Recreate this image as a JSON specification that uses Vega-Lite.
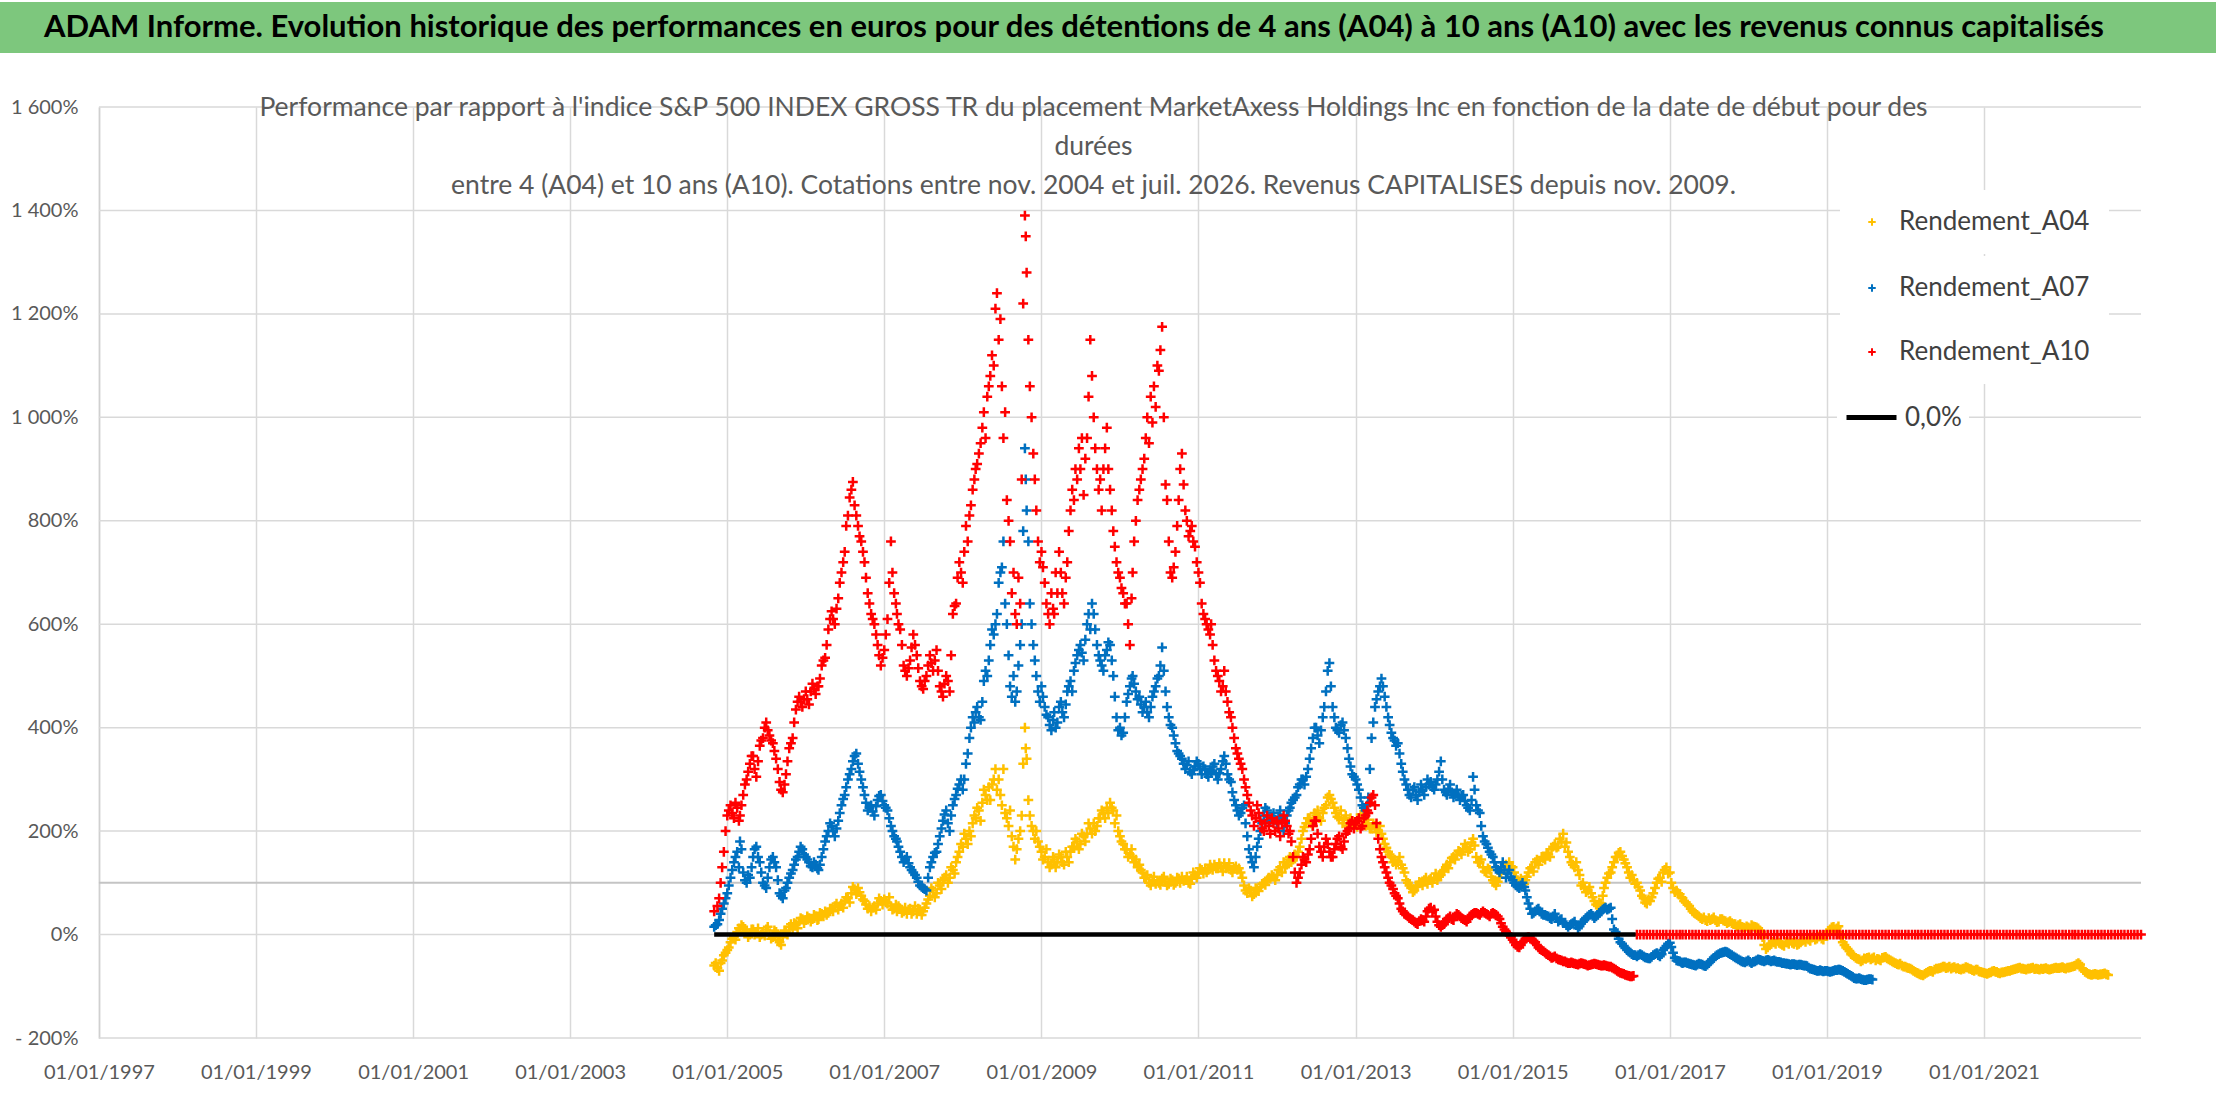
{
"$schema": "https://vega.github.io/schema/vega-lite/v6.json",
"background": "white",
"padding": {"left": 0, "top": 2, "right": 0, "bottom": 0},
"autosize": {"type": "pad"},
"config": {
  "font": "Lato",
  "view": {"stroke": null},
  "axis": {"labelFont": "Lato", "labelColor": "#595959", "labelFontSize": 20, "gridColor": "#d9d9d9", "gridWidth": 1.5, "domainColor": "#d0d0d0", "domainWidth": 1.5, "ticks": false}
},
"datasets": {
"a04": [
{"d":"2004-11-01","v":-60},{"d":"2004-11-16","v":-65},{"d":"2004-11-24","v":-70},{"d":"2004-12-01","v":-55},{"d":"2004-12-16","v":-40},
{"d":"2005-01-01","v":-30},{"d":"2005-01-16","v":-15},{"d":"2005-02-01","v":-5},{"d":"2005-02-16","v":5},{"d":"2005-03-01","v":10},{"d":"2005-03-16","v":15},{"d":"2005-04-01","v":5},{"d":"2005-04-16","v":0},{"d":"2005-05-01","v":10},{"d":"2005-05-16","v":5},{"d":"2005-06-01","v":-5},{"d":"2005-06-16","v":5},{"d":"2005-07-01","v":10},{"d":"2005-07-16","v":0},{"d":"2005-08-01","v":-5},{"d":"2005-08-16","v":5},{"d":"2005-09-01","v":-15},{"d":"2005-09-16","v":-5},{"d":"2005-10-01","v":5},{"d":"2005-10-16","v":15},{"d":"2005-11-01","v":10},{"d":"2005-11-16","v":20},{"d":"2005-12-01","v":25},{"d":"2005-12-16","v":30},
{"d":"2006-01-01","v":28},{"d":"2006-01-16","v":32},{"d":"2006-02-01","v":30},{"d":"2006-02-16","v":35},{"d":"2006-03-01","v":30},{"d":"2006-03-16","v":40},{"d":"2006-04-01","v":45},{"d":"2006-04-16","v":42},{"d":"2006-05-01","v":50},{"d":"2006-05-16","v":55},{"d":"2006-06-01","v":48},{"d":"2006-06-16","v":60},{"d":"2006-07-01","v":65},{"d":"2006-07-16","v":70},{"d":"2006-08-01","v":80},{"d":"2006-08-16","v":88},{"d":"2006-09-01","v":90},{"d":"2006-09-16","v":75},{"d":"2006-10-01","v":65},{"d":"2006-10-16","v":50},{"d":"2006-11-01","v":45},{"d":"2006-11-16","v":55},{"d":"2006-12-01","v":60},{"d":"2006-12-16","v":65},
{"d":"2007-01-01","v":68},{"d":"2007-01-16","v":60},{"d":"2007-02-01","v":55},{"d":"2007-02-16","v":50},{"d":"2007-03-01","v":45},{"d":"2007-03-16","v":50},{"d":"2007-04-01","v":45},{"d":"2007-04-16","v":40},{"d":"2007-05-01","v":50},{"d":"2007-05-16","v":45},{"d":"2007-06-01","v":40},{"d":"2007-06-16","v":48},{"d":"2007-07-01","v":45},{"d":"2007-07-16","v":60},{"d":"2007-08-01","v":75},{"d":"2007-08-16","v":85},{"d":"2007-09-01","v":80},{"d":"2007-09-16","v":95},{"d":"2007-10-01","v":105},{"d":"2007-10-16","v":115},{"d":"2007-11-01","v":110},{"d":"2007-11-16","v":125},{"d":"2007-12-01","v":140},{"d":"2007-12-16","v":160},
{"d":"2008-01-01","v":170},{"d":"2008-01-16","v":185},{"d":"2008-02-01","v":200},{"d":"2008-02-16","v":215},{"d":"2008-03-01","v":225},{"d":"2008-03-16","v":240},{"d":"2008-04-01","v":255},{"d":"2008-04-16","v":270},{"d":"2008-05-01","v":285},{"d":"2008-05-08","v":260},{"d":"2008-05-16","v":290},{"d":"2008-05-24","v":300},{"d":"2008-06-01","v":320},{"d":"2008-06-08","v":280},{"d":"2008-06-16","v":300},{"d":"2008-06-24","v":270},{"d":"2008-07-01","v":250},{"d":"2008-07-08","v":320},{"d":"2008-07-16","v":235},{"d":"2008-07-24","v":225},{"d":"2008-08-01","v":210},{"d":"2008-08-08","v":240},{"d":"2008-08-16","v":190},{"d":"2008-08-24","v":170},{"d":"2008-09-01","v":145},{"d":"2008-09-08","v":165},{"d":"2008-09-16","v":185},{"d":"2008-09-24","v":200},{"d":"2008-10-01","v":230},{"d":"2008-10-08","v":330},{"d":"2008-10-16","v":400},{"d":"2008-10-20","v":360},{"d":"2008-10-24","v":340},{"d":"2008-11-01","v":260},{"d":"2008-11-08","v":230},{"d":"2008-11-16","v":210},{"d":"2008-11-24","v":200},{"d":"2008-12-01","v":185},{"d":"2008-12-08","v":200},{"d":"2008-12-16","v":180},{"d":"2008-12-24","v":170},
{"d":"2009-01-01","v":160},{"d":"2009-01-16","v":150},{"d":"2009-02-01","v":140},{"d":"2009-02-16","v":135},{"d":"2009-03-01","v":145},{"d":"2009-03-16","v":140},{"d":"2009-04-01","v":150},{"d":"2009-04-16","v":135},{"d":"2009-05-01","v":150},{"d":"2009-05-16","v":160},{"d":"2009-06-01","v":170},{"d":"2009-06-16","v":180},{"d":"2009-07-01","v":175},{"d":"2009-07-16","v":190},{"d":"2009-08-01","v":195},{"d":"2009-08-16","v":205},{"d":"2009-09-01","v":215},{"d":"2009-09-16","v":210},{"d":"2009-10-01","v":225},{"d":"2009-10-16","v":235},{"d":"2009-11-01","v":245},{"d":"2009-11-16","v":255},{"d":"2009-12-01","v":240},{"d":"2009-12-16","v":230},
{"d":"2010-01-01","v":190},{"d":"2010-01-16","v":175},{"d":"2010-02-01","v":165},{"d":"2010-02-16","v":155},{"d":"2010-03-01","v":150},{"d":"2010-03-16","v":145},{"d":"2010-04-01","v":135},{"d":"2010-04-16","v":120},{"d":"2010-05-01","v":110},{"d":"2010-05-16","v":100},{"d":"2010-06-01","v":105},{"d":"2010-06-16","v":98},{"d":"2010-07-01","v":100},{"d":"2010-07-16","v":108},{"d":"2010-08-01","v":102},{"d":"2010-08-16","v":98},{"d":"2010-09-01","v":105},{"d":"2010-09-16","v":100},{"d":"2010-10-01","v":108},{"d":"2010-10-16","v":112},{"d":"2010-11-01","v":105},{"d":"2010-11-16","v":100},{"d":"2010-12-01","v":108},{"d":"2010-12-16","v":115},
{"d":"2011-01-01","v":120},{"d":"2011-01-16","v":125},{"d":"2011-02-01","v":128},{"d":"2011-02-16","v":125},{"d":"2011-03-01","v":130},{"d":"2011-03-16","v":135},{"d":"2011-04-01","v":128},{"d":"2011-04-16","v":132},{"d":"2011-05-01","v":138},{"d":"2011-05-16","v":130},{"d":"2011-06-01","v":125},{"d":"2011-06-16","v":128},{"d":"2011-07-01","v":125},{"d":"2011-07-16","v":120},{"d":"2011-08-01","v":95},{"d":"2011-08-16","v":80},{"d":"2011-09-01","v":85},{"d":"2011-09-16","v":78},{"d":"2011-10-01","v":88},{"d":"2011-10-16","v":92},{"d":"2011-11-01","v":100},{"d":"2011-11-16","v":105},{"d":"2011-12-01","v":108},{"d":"2011-12-16","v":112},
{"d":"2012-01-01","v":115},{"d":"2012-01-16","v":130},{"d":"2012-02-01","v":140},{"d":"2012-02-16","v":135},{"d":"2012-03-01","v":150},{"d":"2012-03-16","v":145},{"d":"2012-04-01","v":150},{"d":"2012-04-16","v":170},{"d":"2012-05-01","v":200},{"d":"2012-05-16","v":215},{"d":"2012-06-01","v":225},{"d":"2012-06-16","v":210},{"d":"2012-07-01","v":230},{"d":"2012-07-16","v":225},{"d":"2012-08-01","v":235},{"d":"2012-08-16","v":250},{"d":"2012-08-24","v":265},{"d":"2012-09-01","v":270},{"d":"2012-09-16","v":255},{"d":"2012-10-01","v":235},{"d":"2012-10-16","v":225},{"d":"2012-11-01","v":215},{"d":"2012-11-16","v":230},{"d":"2012-12-01","v":210},{"d":"2012-12-16","v":220},
{"d":"2013-01-01","v":215},{"d":"2013-01-16","v":225},{"d":"2013-02-01","v":230},{"d":"2013-02-16","v":210},{"d":"2013-03-01","v":215},{"d":"2013-03-16","v":205},{"d":"2013-04-01","v":210},{"d":"2013-04-16","v":200},{"d":"2013-05-01","v":195},{"d":"2013-05-16","v":175},{"d":"2013-06-01","v":160},{"d":"2013-06-16","v":150},{"d":"2013-07-01","v":145},{"d":"2013-07-16","v":140},{"d":"2013-08-01","v":135},{"d":"2013-08-16","v":120},{"d":"2013-09-01","v":100},{"d":"2013-09-16","v":90},{"d":"2013-10-01","v":85},{"d":"2013-10-16","v":95},{"d":"2013-11-01","v":100},{"d":"2013-11-16","v":105},{"d":"2013-12-01","v":98},{"d":"2013-12-16","v":108},
{"d":"2014-01-01","v":110},{"d":"2014-01-16","v":105},{"d":"2014-02-01","v":115},{"d":"2014-02-16","v":125},{"d":"2014-03-01","v":135},{"d":"2014-03-16","v":140},{"d":"2014-04-01","v":150},{"d":"2014-04-16","v":155},{"d":"2014-05-01","v":160},{"d":"2014-05-16","v":165},{"d":"2014-06-01","v":170},{"d":"2014-06-16","v":165},{"d":"2014-07-01","v":185},{"d":"2014-07-16","v":150},{"d":"2014-08-01","v":140},{"d":"2014-08-16","v":130},{"d":"2014-09-01","v":120},{"d":"2014-09-16","v":125},{"d":"2014-10-01","v":105},{"d":"2014-10-16","v":95},{"d":"2014-11-01","v":110},{"d":"2014-11-16","v":125},{"d":"2014-12-01","v":135},{"d":"2014-12-16","v":140},
{"d":"2015-01-01","v":130},{"d":"2015-01-16","v":110},{"d":"2015-02-01","v":100},{"d":"2015-02-16","v":95},{"d":"2015-03-01","v":105},{"d":"2015-03-16","v":120},{"d":"2015-04-01","v":130},{"d":"2015-04-16","v":140},{"d":"2015-05-01","v":135},{"d":"2015-05-16","v":150},{"d":"2015-06-01","v":145},{"d":"2015-06-16","v":155},{"d":"2015-07-01","v":165},{"d":"2015-07-16","v":175},{"d":"2015-08-01","v":170},{"d":"2015-08-16","v":180},{"d":"2015-08-24","v":195},{"d":"2015-09-01","v":170},{"d":"2015-09-16","v":160},{"d":"2015-10-01","v":140},{"d":"2015-10-16","v":130},{"d":"2015-11-01","v":125},{"d":"2015-11-16","v":95},{"d":"2015-12-01","v":90},{"d":"2015-12-16","v":85},
{"d":"2016-01-01","v":80},{"d":"2016-01-16","v":65},{"d":"2016-02-01","v":55},{"d":"2016-02-16","v":60},{"d":"2016-03-01","v":90},{"d":"2016-03-16","v":110},{"d":"2016-04-01","v":120},{"d":"2016-04-16","v":140},{"d":"2016-05-01","v":150},{"d":"2016-05-16","v":160},{"d":"2016-06-01","v":145},{"d":"2016-06-16","v":130},{"d":"2016-07-01","v":110},{"d":"2016-07-16","v":105},{"d":"2016-08-01","v":100},{"d":"2016-08-16","v":85},{"d":"2016-09-01","v":70},{"d":"2016-09-16","v":60},{"d":"2016-10-01","v":65},{"d":"2016-10-16","v":80},{"d":"2016-11-01","v":100},{"d":"2016-11-16","v":110},{"d":"2016-12-01","v":120},{"d":"2016-12-16","v":130},
{"d":"2017-01-01","v":120},{"d":"2017-01-16","v":90},{"d":"2017-02-01","v":85},{"d":"2017-02-16","v":78},{"d":"2017-03-01","v":70},{"d":"2017-03-16","v":62},{"d":"2017-04-01","v":55},{"d":"2017-04-16","v":45},{"d":"2017-05-01","v":40},{"d":"2017-05-16","v":35},{"d":"2017-06-01","v":30},{"d":"2017-06-16","v":28},{"d":"2017-07-01","v":32},{"d":"2017-07-16","v":30},{"d":"2017-08-01","v":28},{"d":"2017-08-16","v":25},{"d":"2017-09-01","v":30},{"d":"2017-09-16","v":26},{"d":"2017-10-01","v":24},{"d":"2017-10-16","v":22},{"d":"2017-11-01","v":20},{"d":"2017-11-16","v":18},{"d":"2017-12-01","v":15},{"d":"2017-12-16","v":12},
{"d":"2018-01-01","v":14},{"d":"2018-01-16","v":18},{"d":"2018-02-01","v":15},{"d":"2018-02-16","v":12},{"d":"2018-03-01","v":5},{"d":"2018-03-16","v":-20},{"d":"2018-04-01","v":-25},{"d":"2018-04-16","v":-18},{"d":"2018-05-01","v":-15},{"d":"2018-05-16","v":-12},{"d":"2018-06-01","v":-18},{"d":"2018-06-16","v":-22},{"d":"2018-07-01","v":-15},{"d":"2018-07-16","v":-12},{"d":"2018-08-01","v":-18},{"d":"2018-08-16","v":-20},{"d":"2018-09-01","v":-15},{"d":"2018-09-16","v":-10},{"d":"2018-10-01","v":-8},{"d":"2018-10-16","v":-12},{"d":"2018-11-01","v":-5},{"d":"2018-11-16","v":-8},{"d":"2018-12-01","v":-3},{"d":"2018-12-16","v":-10},
{"d":"2019-01-01","v":2},{"d":"2019-01-16","v":10},{"d":"2019-02-01","v":15},{"d":"2019-02-16","v":12},{"d":"2019-03-01","v":5},{"d":"2019-03-16","v":-15},{"d":"2019-04-01","v":-25},{"d":"2019-04-16","v":-32},{"d":"2019-05-01","v":-40},{"d":"2019-05-16","v":-45},{"d":"2019-06-01","v":-48},{"d":"2019-06-16","v":-50},{"d":"2019-07-01","v":-47},{"d":"2019-07-16","v":-44},{"d":"2019-08-01","v":-46},{"d":"2019-08-16","v":-50},{"d":"2019-09-01","v":-48},{"d":"2019-09-16","v":-45},{"d":"2019-10-01","v":-43},{"d":"2019-10-16","v":-48},{"d":"2019-11-01","v":-52},{"d":"2019-11-16","v":-55},{"d":"2019-12-01","v":-58},{"d":"2019-12-16","v":-60},
{"d":"2020-01-01","v":-62},{"d":"2020-01-16","v":-65},{"d":"2020-02-01","v":-68},{"d":"2020-02-16","v":-72},{"d":"2020-03-01","v":-75},{"d":"2020-03-16","v":-78},{"d":"2020-04-01","v":-76},{"d":"2020-04-16","v":-72},{"d":"2020-05-01","v":-70},{"d":"2020-05-16","v":-68},{"d":"2020-06-01","v":-66},{"d":"2020-06-16","v":-64},{"d":"2020-07-01","v":-62},{"d":"2020-07-16","v":-64},{"d":"2020-08-01","v":-66},{"d":"2020-08-16","v":-63},{"d":"2020-09-01","v":-65},{"d":"2020-09-16","v":-68},{"d":"2020-10-01","v":-66},{"d":"2020-10-16","v":-64},{"d":"2020-11-01","v":-67},{"d":"2020-11-16","v":-70},{"d":"2020-12-01","v":-68},{"d":"2020-12-16","v":-72},
{"d":"2021-01-01","v":-74},{"d":"2021-01-16","v":-76},{"d":"2021-02-01","v":-73},{"d":"2021-02-16","v":-70},{"d":"2021-03-01","v":-72},{"d":"2021-03-16","v":-75},{"d":"2021-04-01","v":-73},{"d":"2021-04-16","v":-71},{"d":"2021-05-01","v":-70},{"d":"2021-05-16","v":-68},{"d":"2021-06-01","v":-66},{"d":"2021-06-16","v":-64},{"d":"2021-07-01","v":-66},{"d":"2021-07-16","v":-68},{"d":"2021-08-01","v":-66},{"d":"2021-08-16","v":-64},{"d":"2021-09-01","v":-66},{"d":"2021-09-16","v":-68},{"d":"2021-10-01","v":-67},{"d":"2021-10-16","v":-65},{"d":"2021-11-01","v":-68},{"d":"2021-11-16","v":-66},{"d":"2021-12-01","v":-64},{"d":"2021-12-16","v":-65},
{"d":"2022-01-01","v":-63},{"d":"2022-01-16","v":-66},{"d":"2022-02-01","v":-64},{"d":"2022-02-16","v":-62},{"d":"2022-03-01","v":-60},{"d":"2022-03-16","v":-55},{"d":"2022-04-01","v":-65},{"d":"2022-04-16","v":-72},{"d":"2022-05-01","v":-76},{"d":"2022-05-16","v":-78},{"d":"2022-06-01","v":-76},{"d":"2022-06-16","v":-78},{"d":"2022-07-01","v":-77},{"d":"2022-07-16","v":-75},{"d":"2022-08-01","v":-78}
],
"a04x": [
{"d":"2004-11-08","v":-55},{"d":"2004-12-08","v":-50},{"d":"2004-12-24","v":-35},
{"d":"2005-01-08","v":-25},{"d":"2005-01-24","v":-8},{"d":"2005-02-08","v":-10},{"d":"2005-02-24","v":12},{"d":"2005-03-08","v":18},{"d":"2005-03-24","v":5},{"d":"2005-04-08","v":-5},{"d":"2005-04-24","v":10},{"d":"2005-05-08","v":0},{"d":"2005-05-24","v":12},{"d":"2005-06-08","v":0},{"d":"2005-06-24","v":-2},{"d":"2005-07-08","v":15},{"d":"2005-07-24","v":-8},{"d":"2005-08-08","v":8},{"d":"2005-08-24","v":-10},{"d":"2005-09-08","v":-20},{"d":"2005-09-24","v":8},{"d":"2005-10-08","v":0},{"d":"2005-10-24","v":20},{"d":"2005-11-08","v":22},{"d":"2005-11-24","v":12},{"d":"2005-12-08","v":32},{"d":"2005-12-24","v":22},
{"d":"2006-01-08","v":35},{"d":"2006-01-24","v":25},{"d":"2006-02-08","v":38},{"d":"2006-02-24","v":28},{"d":"2006-03-08","v":42},{"d":"2006-03-24","v":35},{"d":"2006-04-08","v":38},{"d":"2006-04-24","v":50},{"d":"2006-05-08","v":45},{"d":"2006-05-24","v":60},{"d":"2006-06-08","v":55},{"d":"2006-06-24","v":52},{"d":"2006-07-08","v":72},{"d":"2006-07-24","v":62},{"d":"2006-08-08","v":92},{"d":"2006-08-24","v":78},{"d":"2006-09-08","v":82},{"d":"2006-09-24","v":68},{"d":"2006-10-08","v":58},{"d":"2006-10-24","v":55},{"d":"2006-11-08","v":52},{"d":"2006-11-24","v":48},{"d":"2006-12-08","v":70},{"d":"2006-12-24","v":58},
{"d":"2007-01-08","v":62},{"d":"2007-01-24","v":72},{"d":"2007-02-08","v":48},{"d":"2007-02-24","v":58},{"d":"2007-03-08","v":55},{"d":"2007-03-24","v":42},{"d":"2007-04-08","v":52},{"d":"2007-04-24","v":48},{"d":"2007-05-08","v":40},{"d":"2007-05-24","v":55},{"d":"2007-06-08","v":50},{"d":"2007-06-24","v":38},{"d":"2007-07-08","v":52},{"d":"2007-07-24","v":68},{"d":"2007-08-08","v":90},{"d":"2007-08-24","v":72},{"d":"2007-09-08","v":100},{"d":"2007-09-24","v":88},{"d":"2007-10-08","v":110},{"d":"2007-10-24","v":100},{"d":"2007-11-08","v":130},{"d":"2007-11-24","v":118},{"d":"2007-12-08","v":150},{"d":"2007-12-24","v":175},
{"d":"2008-01-08","v":195},{"d":"2008-01-24","v":175},{"d":"2008-02-08","v":190},{"d":"2008-02-24","v":230},{"d":"2008-03-08","v":245},{"d":"2008-03-24","v":220},{"d":"2008-04-08","v":280},{"d":"2008-04-24","v":260},
{"d":"2009-01-08","v":145},{"d":"2009-01-24","v":165},{"d":"2009-02-08","v":130},{"d":"2009-02-24","v":150},{"d":"2009-03-08","v":130},{"d":"2009-03-24","v":155},{"d":"2009-04-08","v":140},{"d":"2009-04-24","v":160},{"d":"2009-05-08","v":140},{"d":"2009-05-24","v":170},{"d":"2009-06-08","v":185},{"d":"2009-06-24","v":165},{"d":"2009-07-08","v":195},{"d":"2009-07-24","v":180},{"d":"2009-08-08","v":215},{"d":"2009-08-24","v":195},{"d":"2009-09-08","v":200},{"d":"2009-09-24","v":225},{"d":"2009-10-08","v":240},{"d":"2009-10-24","v":225},{"d":"2009-11-08","v":235},{"d":"2009-11-24","v":245},{"d":"2009-12-08","v":215},{"d":"2009-12-24","v":200},
{"d":"2010-01-08","v":180},{"d":"2010-01-24","v":165},{"d":"2010-02-08","v":150},{"d":"2010-02-24","v":165},{"d":"2010-03-08","v":140},{"d":"2010-03-24","v":130},{"d":"2010-04-08","v":125},{"d":"2010-04-24","v":110},{"d":"2010-05-08","v":115},{"d":"2010-05-24","v":95},{"d":"2010-06-08","v":112},{"d":"2010-06-24","v":104},{"d":"2010-07-08","v":96},{"d":"2010-07-24","v":112},{"d":"2010-08-08","v":95},{"d":"2010-08-24","v":108},{"d":"2010-09-08","v":96},{"d":"2010-09-24","v":110},{"d":"2010-10-08","v":100},{"d":"2010-10-24","v":104},{"d":"2010-11-08","v":112},{"d":"2010-11-24","v":98},{"d":"2010-12-08","v":120},{"d":"2010-12-24","v":110},
{"d":"2011-01-08","v":128},{"d":"2011-01-24","v":118},{"d":"2011-02-08","v":120},{"d":"2011-02-24","v":135},{"d":"2011-03-08","v":125},{"d":"2011-03-24","v":128},{"d":"2011-04-08","v":138},{"d":"2011-04-24","v":122},{"d":"2011-05-08","v":128},{"d":"2011-05-24","v":138},{"d":"2011-06-08","v":120},{"d":"2011-06-24","v":132},{"d":"2011-07-08","v":128},{"d":"2011-07-24","v":110},{"d":"2011-08-08","v":85},{"d":"2011-08-24","v":90},{"d":"2011-09-08","v":74},{"d":"2011-09-24","v":90},{"d":"2011-10-08","v":84},{"d":"2011-10-24","v":98},{"d":"2011-11-08","v":96},{"d":"2011-11-24","v":110},{"d":"2011-12-08","v":115},{"d":"2011-12-24","v":105},
{"d":"2012-01-08","v":125},{"d":"2012-01-24","v":120},{"d":"2012-02-08","v":130},{"d":"2012-02-24","v":145},{"d":"2012-03-08","v":140},{"d":"2012-03-24","v":155},{"d":"2012-04-08","v":160},{"d":"2012-04-24","v":185},{"d":"2012-05-08","v":208},{"d":"2012-05-24","v":225},{"d":"2012-06-08","v":215},{"d":"2012-06-24","v":235},{"d":"2012-07-08","v":240},{"d":"2012-07-24","v":220},{"d":"2012-08-08","v":245},{"d":"2012-09-08","v":262},{"d":"2012-09-24","v":245},{"d":"2012-10-08","v":228},{"d":"2012-10-24","v":240},{"d":"2012-11-08","v":222},{"d":"2012-11-24","v":210},{"d":"2012-12-08","v":225},{"d":"2012-12-24","v":212},
{"d":"2013-01-08","v":208},{"d":"2013-01-24","v":232},{"d":"2013-02-08","v":220},{"d":"2013-02-24","v":222},{"d":"2013-03-08","v":205},{"d":"2013-03-24","v":215},{"d":"2013-04-08","v":198},{"d":"2013-04-24","v":210},{"d":"2013-05-08","v":185},{"d":"2013-05-24","v":168},{"d":"2013-06-08","v":155},{"d":"2013-06-24","v":140},{"d":"2013-07-08","v":135},{"d":"2013-07-24","v":150},{"d":"2013-08-08","v":128},{"d":"2013-08-24","v":105},{"d":"2013-09-08","v":95},{"d":"2013-09-24","v":82},{"d":"2013-10-08","v":92},{"d":"2013-10-24","v":102},{"d":"2013-11-08","v":95},{"d":"2013-11-24","v":110},{"d":"2013-12-08","v":105},{"d":"2013-12-24","v":100},
{"d":"2014-01-08","v":118},{"d":"2014-01-24","v":112},{"d":"2014-02-08","v":122},{"d":"2014-02-24","v":130},{"d":"2014-03-08","v":128},{"d":"2014-03-24","v":148},{"d":"2014-04-08","v":145},{"d":"2014-04-24","v":162},{"d":"2014-05-08","v":155},{"d":"2014-05-24","v":175},{"d":"2014-06-08","v":160},{"d":"2014-06-24","v":178},{"d":"2014-07-08","v":172},{"d":"2014-07-24","v":140},{"d":"2014-08-08","v":145},{"d":"2014-08-24","v":122},{"d":"2014-09-08","v":128},{"d":"2014-09-24","v":112},{"d":"2014-10-08","v":100},{"d":"2014-10-24","v":102},{"d":"2014-11-08","v":118},{"d":"2014-11-24","v":130},{"d":"2014-12-08","v":128},{"d":"2014-12-24","v":132},
{"d":"2015-01-08","v":120},{"d":"2015-01-24","v":105},{"d":"2015-02-08","v":108},{"d":"2015-02-24","v":98},{"d":"2015-03-08","v":112},{"d":"2015-03-24","v":128},{"d":"2015-04-08","v":122},{"d":"2015-04-24","v":145},{"d":"2015-05-08","v":142},{"d":"2015-05-24","v":148},{"d":"2015-06-08","v":158},{"d":"2015-06-24","v":150},{"d":"2015-07-08","v":170},{"d":"2015-07-24","v":168},{"d":"2015-08-08","v":185},{"d":"2015-09-08","v":178},{"d":"2015-09-24","v":150},{"d":"2015-10-08","v":135},{"d":"2015-10-24","v":140},{"d":"2015-11-08","v":115},{"d":"2015-11-24","v":100},{"d":"2015-12-08","v":82},{"d":"2015-12-24","v":92},
{"d":"2016-01-08","v":72},{"d":"2016-01-24","v":58},{"d":"2016-02-08","v":62},{"d":"2016-02-24","v":75},{"d":"2016-03-08","v":100},{"d":"2016-03-24","v":118},{"d":"2016-04-08","v":130},{"d":"2016-04-24","v":150},{"d":"2016-05-08","v":158},{"d":"2016-05-24","v":152},{"d":"2016-06-08","v":138},{"d":"2016-06-24","v":120},{"d":"2016-07-08","v":115},{"d":"2016-07-24","v":98},{"d":"2016-08-08","v":92},{"d":"2016-08-24","v":75},{"d":"2016-09-08","v":62},{"d":"2016-09-24","v":68},{"d":"2016-10-08","v":72},{"d":"2016-10-24","v":90},{"d":"2016-11-08","v":108},{"d":"2016-11-24","v":102},{"d":"2016-12-08","v":125},{"d":"2016-12-24","v":118},
{"d":"2017-01-08","v":100},{"d":"2017-01-24","v":82},{"d":"2017-02-08","v":80},{"d":"2017-02-24","v":72},{"d":"2017-03-08","v":65},{"d":"2017-03-24","v":58},{"d":"2017-04-08","v":50},{"d":"2017-04-24","v":42},{"d":"2017-05-08","v":38},{"d":"2017-05-24","v":32},{"d":"2017-06-08","v":33},{"d":"2017-06-24","v":26},{"d":"2017-07-08","v":28},{"d":"2017-07-24","v":33},{"d":"2017-08-08","v":24},{"d":"2017-08-24","v":30},{"d":"2017-09-08","v":27},{"d":"2017-09-24","v":22},{"d":"2017-10-08","v":26},{"d":"2017-10-24","v":20},{"d":"2017-11-08","v":16},{"d":"2017-11-24","v":20},{"d":"2017-12-08","v":14},{"d":"2017-12-24","v":16},
{"d":"2018-01-08","v":12},{"d":"2018-01-24","v":16},{"d":"2018-02-08","v":14},{"d":"2018-02-24","v":8},{"d":"2018-03-08","v":-5},{"d":"2018-03-24","v":-28},{"d":"2018-04-08","v":-20},{"d":"2018-04-24","v":-14},{"d":"2018-05-08","v":-18},{"d":"2018-05-24","v":-16},{"d":"2018-06-08","v":-20},{"d":"2018-06-24","v":-14},{"d":"2018-07-08","v":-18},{"d":"2018-07-24","v":-16},{"d":"2018-08-08","v":-14},{"d":"2018-08-24","v":-18},{"d":"2018-09-08","v":-12},{"d":"2018-09-24","v":-14},{"d":"2018-10-08","v":-10},{"d":"2018-10-24","v":-6},{"d":"2018-11-08","v":-10},{"d":"2018-11-24","v":-4},{"d":"2018-12-08","v":-8},{"d":"2018-12-24","v":-2},
{"d":"2019-01-08","v":6},{"d":"2019-01-24","v":14},{"d":"2019-02-08","v":10},{"d":"2019-02-24","v":16},{"d":"2019-03-08","v":-5},{"d":"2019-03-24","v":-20},{"d":"2019-04-08","v":-28},{"d":"2019-04-24","v":-38},{"d":"2019-05-08","v":-42},{"d":"2019-05-24","v":-47},{"d":"2019-06-08","v":-52},{"d":"2019-06-24","v":-46},{"d":"2019-07-08","v":-45},{"d":"2019-07-24","v":-48},{"d":"2019-08-08","v":-44},{"d":"2019-08-24","v":-47},{"d":"2019-09-08","v":-50},{"d":"2019-09-24","v":-44},{"d":"2019-10-08","v":-46},{"d":"2019-10-24","v":-50},{"d":"2019-11-08","v":-54},{"d":"2019-11-24","v":-57},{"d":"2019-12-08","v":-56},{"d":"2019-12-24","v":-62},
{"d":"2020-01-08","v":-64},{"d":"2020-01-24","v":-66},{"d":"2020-02-08","v":-70},{"d":"2020-02-24","v":-74},{"d":"2020-03-08","v":-77},{"d":"2020-03-24","v":-79},{"d":"2020-04-08","v":-74},{"d":"2020-04-24","v":-70},{"d":"2020-05-08","v":-72},{"d":"2020-05-24","v":-66},{"d":"2020-06-08","v":-65},{"d":"2020-06-24","v":-62},{"d":"2020-07-08","v":-65},{"d":"2020-07-24","v":-62},{"d":"2020-08-08","v":-64},{"d":"2020-08-24","v":-66},{"d":"2020-09-08","v":-67},{"d":"2020-09-24","v":-66},{"d":"2020-10-08","v":-63},{"d":"2020-10-24","v":-66},{"d":"2020-11-08","v":-69},{"d":"2020-11-24","v":-68},{"d":"2020-12-08","v":-71},{"d":"2020-12-24","v":-73},
{"d":"2021-01-08","v":-75},{"d":"2021-01-24","v":-74},{"d":"2021-02-08","v":-71},{"d":"2021-02-24","v":-72},{"d":"2021-03-08","v":-74},{"d":"2021-03-24","v":-73},{"d":"2021-04-08","v":-72},{"d":"2021-04-24","v":-70},{"d":"2021-05-08","v":-69},{"d":"2021-05-24","v":-67},{"d":"2021-06-08","v":-65},{"d":"2021-06-24","v":-66},{"d":"2021-07-08","v":-67},{"d":"2021-07-24","v":-66},{"d":"2021-08-08","v":-65},{"d":"2021-08-24","v":-67},{"d":"2021-09-08","v":-67},{"d":"2021-09-24","v":-66},{"d":"2021-10-08","v":-66},{"d":"2021-10-24","v":-67},{"d":"2021-11-08","v":-67},{"d":"2021-11-24","v":-65},{"d":"2021-12-08","v":-65},{"d":"2021-12-24","v":-64},
{"d":"2022-01-08","v":-65},{"d":"2022-01-24","v":-64},{"d":"2022-02-08","v":-63},{"d":"2022-02-24","v":-61},{"d":"2022-03-08","v":-57},{"d":"2022-03-24","v":-58},{"d":"2022-04-08","v":-69},{"d":"2022-04-24","v":-74},{"d":"2022-05-08","v":-77},{"d":"2022-05-24","v":-77},{"d":"2022-06-08","v":-77},{"d":"2022-06-24","v":-77},{"d":"2022-07-08","v":-76},{"d":"2022-07-24","v":-77}
],
"a07": [
{"d":"2004-11-01","v":15},{"d":"2004-11-16","v":20},{"d":"2004-12-01","v":40},{"d":"2004-12-16","v":60},
{"d":"2005-01-01","v":80},{"d":"2005-01-16","v":110},{"d":"2005-02-01","v":140},{"d":"2005-02-16","v":160},{"d":"2005-03-01","v":180},{"d":"2005-03-16","v":120},{"d":"2005-04-01","v":100},{"d":"2005-04-16","v":110},{"d":"2005-05-01","v":150},{"d":"2005-05-16","v":170},{"d":"2005-06-01","v":140},{"d":"2005-06-16","v":100},{"d":"2005-07-01","v":90},{"d":"2005-07-16","v":130},{"d":"2005-08-01","v":150},{"d":"2005-08-16","v":130},{"d":"2005-09-01","v":80},{"d":"2005-09-16","v":70},{"d":"2005-10-01","v":90},{"d":"2005-10-16","v":110},{"d":"2005-11-01","v":125},{"d":"2005-11-16","v":145},{"d":"2005-12-01","v":160},{"d":"2005-12-16","v":165},
{"d":"2006-01-01","v":150},{"d":"2006-01-16","v":140},{"d":"2006-02-01","v":130},{"d":"2006-02-16","v":135},{"d":"2006-03-01","v":125},{"d":"2006-03-16","v":150},{"d":"2006-04-01","v":180},{"d":"2006-04-16","v":200},{"d":"2006-05-01","v":210},{"d":"2006-05-16","v":190},{"d":"2006-06-01","v":220},{"d":"2006-06-16","v":250},{"d":"2006-07-01","v":270},{"d":"2006-07-16","v":300},{"d":"2006-08-01","v":320},{"d":"2006-08-16","v":345},{"d":"2006-09-01","v":330},{"d":"2006-09-16","v":300},{"d":"2006-10-01","v":270},{"d":"2006-10-16","v":240},{"d":"2006-11-01","v":250},{"d":"2006-11-16","v":230},{"d":"2006-12-01","v":260},{"d":"2006-12-16","v":270},
{"d":"2007-01-01","v":250},{"d":"2007-01-16","v":240},{"d":"2007-02-01","v":210},{"d":"2007-02-16","v":190},{"d":"2007-03-01","v":180},{"d":"2007-03-16","v":160},{"d":"2007-04-01","v":140},{"d":"2007-04-16","v":150},{"d":"2007-05-01","v":130},{"d":"2007-05-16","v":120},{"d":"2007-06-01","v":110},{"d":"2007-06-16","v":95},{"d":"2007-07-01","v":90},{"d":"2007-07-16","v":85},{"d":"2007-08-01","v":130},{"d":"2007-08-16","v":150},{"d":"2007-09-01","v":160},{"d":"2007-09-16","v":190},{"d":"2007-10-01","v":220},{"d":"2007-10-16","v":240},{"d":"2007-11-01","v":200},{"d":"2007-11-16","v":250},{"d":"2007-12-01","v":270},{"d":"2007-12-16","v":290},
{"d":"2008-01-01","v":280},{"d":"2008-01-08","v":300},{"d":"2008-01-16","v":330},{"d":"2008-01-24","v":350},{"d":"2008-02-01","v":380},{"d":"2008-02-08","v":400},{"d":"2008-02-16","v":420},{"d":"2008-02-24","v":410},{"d":"2008-03-01","v":430},{"d":"2008-03-16","v":420},{"d":"2008-04-01","v":450},{"d":"2008-04-08","v":490},{"d":"2008-04-16","v":510},{"d":"2008-04-24","v":500},{"d":"2008-05-01","v":530},{"d":"2008-05-08","v":560},{"d":"2008-05-16","v":590},{"d":"2008-05-24","v":580},{"d":"2008-06-01","v":600},{"d":"2008-06-08","v":620},{"d":"2008-06-16","v":680},{"d":"2008-06-24","v":700},{"d":"2008-07-01","v":710},{"d":"2008-07-08","v":760},{"d":"2008-07-16","v":640},{"d":"2008-07-24","v":600},{"d":"2008-08-01","v":540},{"d":"2008-08-08","v":480},{"d":"2008-08-16","v":460},{"d":"2008-08-24","v":500},{"d":"2008-09-01","v":450},{"d":"2008-09-08","v":470},{"d":"2008-09-16","v":520},{"d":"2008-09-24","v":560},{"d":"2008-10-01","v":600},{"d":"2008-10-08","v":780},{"d":"2008-10-16","v":940},{"d":"2008-10-20","v":880},{"d":"2008-10-24","v":820},{"d":"2008-11-01","v":760},{"d":"2008-11-08","v":640},{"d":"2008-11-16","v":600},{"d":"2008-11-24","v":560},{"d":"2008-12-01","v":530},{"d":"2008-12-08","v":500},{"d":"2008-12-16","v":470},{"d":"2008-12-24","v":450},
{"d":"2009-01-01","v":480},{"d":"2009-01-16","v":440},{"d":"2009-02-01","v":420},{"d":"2009-02-16","v":395},{"d":"2009-03-01","v":430},{"d":"2009-03-16","v":410},{"d":"2009-04-01","v":450},{"d":"2009-04-16","v":420},{"d":"2009-05-01","v":470},{"d":"2009-05-16","v":490},{"d":"2009-06-01","v":510},{"d":"2009-06-16","v":540},{"d":"2009-07-01","v":560},{"d":"2009-07-16","v":530},{"d":"2009-08-01","v":600},{"d":"2009-08-08","v":620},{"d":"2009-08-16","v":590},{"d":"2009-08-24","v":640},{"d":"2009-09-01","v":620},{"d":"2009-09-16","v":560},{"d":"2009-10-01","v":530},{"d":"2009-10-16","v":510},{"d":"2009-11-01","v":550},{"d":"2009-11-16","v":560},{"d":"2009-12-01","v":500},{"d":"2009-12-16","v":420},
{"d":"2010-01-01","v":400},{"d":"2010-01-16","v":390},{"d":"2010-02-01","v":450},{"d":"2010-02-16","v":480},{"d":"2010-03-01","v":500},{"d":"2010-03-16","v":470},{"d":"2010-04-01","v":460},{"d":"2010-04-16","v":430},{"d":"2010-05-01","v":450},{"d":"2010-05-16","v":420},{"d":"2010-06-01","v":460},{"d":"2010-06-16","v":480},{"d":"2010-07-01","v":500},{"d":"2010-07-16","v":555},{"d":"2010-08-01","v":470},{"d":"2010-08-16","v":420},{"d":"2010-09-01","v":400},{"d":"2010-09-16","v":370},{"d":"2010-10-01","v":350},{"d":"2010-10-16","v":340},{"d":"2010-11-01","v":320},{"d":"2010-11-16","v":335},{"d":"2010-12-01","v":310},{"d":"2010-12-16","v":325},
{"d":"2011-01-01","v":330},{"d":"2011-01-16","v":310},{"d":"2011-02-01","v":320},{"d":"2011-02-16","v":305},{"d":"2011-03-01","v":315},{"d":"2011-03-16","v":330},{"d":"2011-04-01","v":300},{"d":"2011-04-16","v":320},{"d":"2011-05-01","v":345},{"d":"2011-05-16","v":310},{"d":"2011-06-01","v":295},{"d":"2011-06-16","v":260},{"d":"2011-07-01","v":240},{"d":"2011-07-16","v":235},{"d":"2011-08-01","v":250},{"d":"2011-08-16","v":190},{"d":"2011-09-01","v":150},{"d":"2011-09-16","v":130},{"d":"2011-10-01","v":170},{"d":"2011-10-16","v":200},{"d":"2011-11-01","v":230},{"d":"2011-11-16","v":240},{"d":"2011-12-01","v":220},{"d":"2011-12-16","v":235},
{"d":"2012-01-01","v":215},{"d":"2012-01-16","v":240},{"d":"2012-02-01","v":200},{"d":"2012-02-16","v":230},{"d":"2012-03-01","v":245},{"d":"2012-03-16","v":260},{"d":"2012-04-01","v":270},{"d":"2012-04-16","v":290},{"d":"2012-05-01","v":300},{"d":"2012-05-16","v":305},{"d":"2012-06-01","v":340},{"d":"2012-06-16","v":380},{"d":"2012-07-01","v":400},{"d":"2012-07-16","v":370},{"d":"2012-08-01","v":420},{"d":"2012-08-16","v":470},{"d":"2012-08-24","v":510},{"d":"2012-09-01","v":525},{"d":"2012-09-08","v":480},{"d":"2012-09-16","v":440},{"d":"2012-10-01","v":400},{"d":"2012-10-16","v":390},{"d":"2012-11-01","v":410},{"d":"2012-11-16","v":380},{"d":"2012-12-01","v":340},{"d":"2012-12-16","v":310},
{"d":"2013-01-01","v":300},{"d":"2013-01-16","v":280},{"d":"2013-02-01","v":250},{"d":"2013-02-16","v":240},{"d":"2013-03-01","v":265},{"d":"2013-03-16","v":380},{"d":"2013-04-01","v":440},{"d":"2013-04-16","v":470},{"d":"2013-05-01","v":495},{"d":"2013-05-16","v":460},{"d":"2013-06-01","v":420},{"d":"2013-06-16","v":390},{"d":"2013-07-01","v":375},{"d":"2013-07-16","v":370},{"d":"2013-08-01","v":330},{"d":"2013-08-16","v":300},{"d":"2013-09-01","v":280},{"d":"2013-09-16","v":265},{"d":"2013-10-01","v":285},{"d":"2013-10-16","v":260},{"d":"2013-11-01","v":290},{"d":"2013-11-16","v":270},{"d":"2013-12-01","v":300},{"d":"2013-12-16","v":295},
{"d":"2014-01-01","v":280},{"d":"2014-01-16","v":300},{"d":"2014-02-01","v":335},{"d":"2014-02-16","v":280},{"d":"2014-03-01","v":270},{"d":"2014-03-16","v":290},{"d":"2014-04-01","v":265},{"d":"2014-04-16","v":280},{"d":"2014-05-01","v":260},{"d":"2014-05-16","v":270},{"d":"2014-06-01","v":250},{"d":"2014-06-16","v":240},{"d":"2014-07-01","v":305},{"d":"2014-07-16","v":250},{"d":"2014-08-01","v":235},{"d":"2014-08-16","v":190},{"d":"2014-09-01","v":175},{"d":"2014-09-16","v":160},{"d":"2014-10-01","v":150},{"d":"2014-10-16","v":130},{"d":"2014-11-01","v":120},{"d":"2014-11-16","v":140},{"d":"2014-12-01","v":110},{"d":"2014-12-16","v":125},
{"d":"2015-01-01","v":105},{"d":"2015-01-16","v":95},{"d":"2015-02-01","v":90},{"d":"2015-02-16","v":100},{"d":"2015-03-01","v":85},{"d":"2015-03-16","v":60},{"d":"2015-04-01","v":40},{"d":"2015-04-16","v":45},{"d":"2015-05-01","v":50},{"d":"2015-05-16","v":40},{"d":"2015-06-01","v":38},{"d":"2015-06-16","v":35},{"d":"2015-07-01","v":30},{"d":"2015-07-16","v":40},{"d":"2015-08-01","v":25},{"d":"2015-08-16","v":30},{"d":"2015-09-01","v":22},{"d":"2015-09-16","v":15},{"d":"2015-10-01","v":20},{"d":"2015-10-16","v":25},{"d":"2015-11-01","v":12},{"d":"2015-11-16","v":22},{"d":"2015-12-01","v":28},{"d":"2015-12-16","v":35},
{"d":"2016-01-01","v":40},{"d":"2016-01-16","v":32},{"d":"2016-02-01","v":38},{"d":"2016-02-16","v":45},{"d":"2016-03-01","v":50},{"d":"2016-03-16","v":48},{"d":"2016-04-01","v":52},{"d":"2016-04-16","v":10},{"d":"2016-05-01","v":0},{"d":"2016-05-16","v":-15},{"d":"2016-06-01","v":-22},{"d":"2016-06-16","v":-30},{"d":"2016-07-01","v":-35},{"d":"2016-07-16","v":-40},{"d":"2016-08-01","v":-42},{"d":"2016-08-16","v":-38},{"d":"2016-09-01","v":-42},{"d":"2016-09-16","v":-45},{"d":"2016-10-01","v":-46},{"d":"2016-10-16","v":-40},{"d":"2016-11-01","v":-36},{"d":"2016-11-16","v":-42},{"d":"2016-12-01","v":-30},{"d":"2016-12-16","v":-22},
{"d":"2017-01-01","v":-16},{"d":"2017-01-16","v":-35},{"d":"2017-02-01","v":-50},{"d":"2017-02-16","v":-52},{"d":"2017-03-01","v":-55},{"d":"2017-03-16","v":-54},{"d":"2017-04-01","v":-56},{"d":"2017-04-16","v":-58},{"d":"2017-05-01","v":-60},{"d":"2017-05-16","v":-56},{"d":"2017-06-01","v":-58},{"d":"2017-06-16","v":-61},{"d":"2017-07-01","v":-55},{"d":"2017-07-16","v":-48},{"d":"2017-08-01","v":-42},{"d":"2017-08-16","v":-38},{"d":"2017-09-01","v":-35},{"d":"2017-09-16","v":-33},{"d":"2017-10-01","v":-36},{"d":"2017-10-16","v":-40},{"d":"2017-11-01","v":-44},{"d":"2017-11-16","v":-48},{"d":"2017-12-01","v":-52},{"d":"2017-12-16","v":-54},
{"d":"2018-01-01","v":-50},{"d":"2018-01-16","v":-55},{"d":"2018-02-01","v":-52},{"d":"2018-02-16","v":-48},{"d":"2018-03-01","v":-50},{"d":"2018-03-16","v":-52},{"d":"2018-04-01","v":-49},{"d":"2018-04-16","v":-52},{"d":"2018-05-01","v":-50},{"d":"2018-05-16","v":-53},{"d":"2018-06-01","v":-54},{"d":"2018-06-16","v":-55},{"d":"2018-07-01","v":-56},{"d":"2018-07-16","v":-58},{"d":"2018-08-01","v":-57},{"d":"2018-08-16","v":-59},{"d":"2018-09-01","v":-58},{"d":"2018-09-16","v":-60},{"d":"2018-10-01","v":-61},{"d":"2018-10-16","v":-66},{"d":"2018-11-01","v":-68},{"d":"2018-11-16","v":-70},{"d":"2018-12-01","v":-69},{"d":"2018-12-16","v":-71},
{"d":"2019-01-01","v":-70},{"d":"2019-01-16","v":-72},{"d":"2019-02-01","v":-70},{"d":"2019-02-16","v":-69},{"d":"2019-03-01","v":-68},{"d":"2019-03-16","v":-70},{"d":"2019-04-01","v":-74},{"d":"2019-04-16","v":-78},{"d":"2019-05-01","v":-82},{"d":"2019-05-16","v":-85},{"d":"2019-06-01","v":-84},{"d":"2019-06-16","v":-87},{"d":"2019-07-01","v":-88},{"d":"2019-07-16","v":-86},{"d":"2019-08-01","v":-87}
],
"a07x": [
{"d":"2004-11-08","v":18},{"d":"2004-11-24","v":28},{"d":"2004-12-08","v":50},{"d":"2004-12-24","v":70},
{"d":"2005-01-08","v":95},{"d":"2005-01-24","v":125},{"d":"2005-02-08","v":150},{"d":"2005-02-24","v":130},{"d":"2005-03-08","v":165},{"d":"2005-03-24","v":105},{"d":"2005-04-08","v":115},{"d":"2005-04-24","v":130},{"d":"2005-05-08","v":165},{"d":"2005-05-24","v":150},{"d":"2005-06-08","v":120},{"d":"2005-06-24","v":95},{"d":"2005-07-08","v":110},{"d":"2005-07-24","v":145},{"d":"2005-08-08","v":140},{"d":"2005-08-24","v":105},{"d":"2005-09-08","v":75},{"d":"2005-09-24","v":85},{"d":"2005-10-08","v":100},{"d":"2005-10-24","v":118},{"d":"2005-11-08","v":135},{"d":"2005-11-24","v":150},{"d":"2005-12-08","v":170},{"d":"2005-12-24","v":155},
{"d":"2006-01-08","v":145},{"d":"2006-01-24","v":132},{"d":"2006-02-08","v":140},{"d":"2006-02-24","v":128},{"d":"2006-03-08","v":135},{"d":"2006-03-24","v":165},{"d":"2006-04-08","v":190},{"d":"2006-04-24","v":215},{"d":"2006-05-08","v":200},{"d":"2006-05-24","v":205},{"d":"2006-06-08","v":235},{"d":"2006-06-24","v":262},{"d":"2006-07-08","v":285},{"d":"2006-07-24","v":310},{"d":"2006-08-08","v":335},{"d":"2006-08-24","v":350},{"d":"2006-09-08","v":315},{"d":"2006-09-24","v":285},{"d":"2006-10-08","v":255},{"d":"2006-10-24","v":245},{"d":"2006-11-08","v":238},{"d":"2006-11-24","v":248},{"d":"2006-12-08","v":268},{"d":"2006-12-24","v":258},
{"d":"2007-01-08","v":245},{"d":"2007-01-24","v":225},{"d":"2007-02-08","v":200},{"d":"2007-02-24","v":185},{"d":"2007-03-08","v":170},{"d":"2007-03-24","v":150},{"d":"2007-04-08","v":145},{"d":"2007-04-24","v":138},{"d":"2007-05-08","v":125},{"d":"2007-05-24","v":115},{"d":"2007-06-08","v":102},{"d":"2007-06-24","v":92},{"d":"2007-07-08","v":88},{"d":"2007-07-24","v":110},{"d":"2007-08-08","v":140},{"d":"2007-08-24","v":158},{"d":"2007-09-08","v":175},{"d":"2007-09-24","v":205},{"d":"2007-10-08","v":232},{"d":"2007-10-24","v":215},{"d":"2007-11-08","v":230},{"d":"2007-11-24","v":262},{"d":"2007-12-08","v":282},{"d":"2007-12-24","v":300},
{"d":"2008-03-08","v":440},{"d":"2008-03-24","v":415},
{"d":"2009-01-08","v":460},{"d":"2009-01-24","v":425},{"d":"2009-02-08","v":405},{"d":"2009-02-24","v":415},{"d":"2009-03-08","v":400},{"d":"2009-03-24","v":440},{"d":"2009-04-08","v":430},{"d":"2009-04-24","v":445},{"d":"2009-05-08","v":480},{"d":"2009-05-24","v":470},{"d":"2009-06-08","v":525},{"d":"2009-06-24","v":550},{"d":"2009-07-08","v":545},{"d":"2009-07-24","v":570},{"d":"2009-09-08","v":590},{"d":"2009-09-24","v":540},{"d":"2009-10-08","v":520},{"d":"2009-10-24","v":540},{"d":"2009-11-08","v":565},{"d":"2009-11-24","v":530},{"d":"2009-12-08","v":460},{"d":"2009-12-24","v":395},
{"d":"2010-01-08","v":385},{"d":"2010-01-24","v":420},{"d":"2010-02-08","v":465},{"d":"2010-02-24","v":495},{"d":"2010-03-08","v":485},{"d":"2010-03-24","v":455},{"d":"2010-04-08","v":445},{"d":"2010-04-24","v":440},{"d":"2010-05-08","v":430},{"d":"2010-05-24","v":440},{"d":"2010-06-08","v":470},{"d":"2010-06-24","v":495},{"d":"2010-07-08","v":520},{"d":"2010-07-24","v":510},{"d":"2010-08-08","v":440},{"d":"2010-08-24","v":405},{"d":"2010-09-08","v":385},{"d":"2010-09-24","v":355},{"d":"2010-10-08","v":345},{"d":"2010-10-24","v":330},{"d":"2010-11-08","v":328},{"d":"2010-11-24","v":315},{"d":"2010-12-08","v":318},{"d":"2010-12-24","v":335},
{"d":"2011-01-08","v":320},{"d":"2011-01-24","v":325},{"d":"2011-02-08","v":310},{"d":"2011-02-24","v":318},{"d":"2011-03-08","v":325},{"d":"2011-03-24","v":310},{"d":"2011-04-08","v":312},{"d":"2011-04-24","v":335},{"d":"2011-05-08","v":330},{"d":"2011-05-24","v":300},{"d":"2011-06-08","v":275},{"d":"2011-06-24","v":250},{"d":"2011-07-08","v":230},{"d":"2011-07-24","v":245},{"d":"2011-08-08","v":215},{"d":"2011-08-24","v":165},{"d":"2011-09-08","v":140},{"d":"2011-09-24","v":150},{"d":"2011-10-08","v":185},{"d":"2011-10-24","v":215},{"d":"2011-11-08","v":245},{"d":"2011-11-24","v":228},{"d":"2011-12-08","v":228},{"d":"2011-12-24","v":222},
{"d":"2012-01-08","v":228},{"d":"2012-01-24","v":225},{"d":"2012-02-08","v":215},{"d":"2012-02-24","v":240},{"d":"2012-03-08","v":255},{"d":"2012-03-24","v":265},{"d":"2012-04-08","v":285},{"d":"2012-04-24","v":300},{"d":"2012-05-08","v":290},{"d":"2012-05-24","v":320},{"d":"2012-06-08","v":360},{"d":"2012-06-24","v":400},{"d":"2012-07-08","v":385},{"d":"2012-07-24","v":395},{"d":"2012-08-08","v":440},{"d":"2012-09-24","v":420},{"d":"2012-10-08","v":395},{"d":"2012-10-24","v":405},{"d":"2012-11-08","v":395},{"d":"2012-11-24","v":360},{"d":"2012-12-08","v":325},{"d":"2012-12-24","v":305},
{"d":"2013-01-08","v":290},{"d":"2013-01-24","v":265},{"d":"2013-02-08","v":245},{"d":"2013-02-24","v":250},{"d":"2013-03-08","v":320},{"d":"2013-03-24","v":410},{"d":"2013-04-08","v":455},{"d":"2013-04-24","v":480},{"d":"2013-05-08","v":480},{"d":"2013-05-24","v":440},{"d":"2013-06-08","v":405},{"d":"2013-06-24","v":380},{"d":"2013-07-08","v":365},{"d":"2013-07-24","v":350},{"d":"2013-08-08","v":315},{"d":"2013-08-24","v":290},{"d":"2013-09-08","v":270},{"d":"2013-09-24","v":280},{"d":"2013-10-08","v":270},{"d":"2013-10-24","v":275},{"d":"2013-11-08","v":280},{"d":"2013-11-24","v":285},{"d":"2013-12-08","v":290},{"d":"2013-12-24","v":285},
{"d":"2014-01-08","v":290},{"d":"2014-01-24","v":315},{"d":"2014-02-08","v":300},{"d":"2014-02-24","v":275},{"d":"2014-03-08","v":280},{"d":"2014-03-24","v":275},{"d":"2014-04-08","v":272},{"d":"2014-04-24","v":268},{"d":"2014-05-08","v":268},{"d":"2014-05-24","v":258},{"d":"2014-06-08","v":245},{"d":"2014-06-24","v":260},{"d":"2014-07-08","v":280},{"d":"2014-07-24","v":240},{"d":"2014-08-08","v":210},{"d":"2014-08-24","v":180},{"d":"2014-09-08","v":168},{"d":"2014-09-24","v":155},{"d":"2014-10-08","v":140},{"d":"2014-10-24","v":125},{"d":"2014-11-08","v":130},{"d":"2014-11-24","v":125},{"d":"2014-12-08","v":118},{"d":"2014-12-24","v":112},
{"d":"2015-01-08","v":100},{"d":"2015-01-24","v":92},{"d":"2015-02-08","v":95},{"d":"2015-02-24","v":92},{"d":"2015-03-08","v":72},{"d":"2015-03-24","v":50},{"d":"2015-04-08","v":42},{"d":"2015-04-24","v":48},{"d":"2015-05-08","v":45},{"d":"2015-05-24","v":38},{"d":"2015-06-08","v":36},{"d":"2015-06-24","v":32},{"d":"2015-07-08","v":35},{"d":"2015-07-24","v":32},{"d":"2015-08-08","v":28},{"d":"2015-08-24","v":22},{"d":"2015-09-08","v":18},{"d":"2015-09-24","v":18},{"d":"2015-10-08","v":22},{"d":"2015-10-24","v":18},{"d":"2015-11-08","v":16},{"d":"2015-11-24","v":25},{"d":"2015-12-08","v":32},{"d":"2015-12-24","v":38},
{"d":"2016-01-08","v":36},{"d":"2016-01-24","v":35},{"d":"2016-02-08","v":42},{"d":"2016-02-24","v":48},{"d":"2016-03-08","v":52},{"d":"2016-03-24","v":50},{"d":"2016-04-08","v":30},{"d":"2016-04-24","v":5},{"d":"2016-05-08","v":-8},{"d":"2016-05-24","v":-18},{"d":"2016-06-08","v":-26},{"d":"2016-06-24","v":-33},{"d":"2016-07-08","v":-38},{"d":"2016-07-24","v":-40},{"d":"2016-08-08","v":-40},{"d":"2016-08-24","v":-40},{"d":"2016-09-08","v":-44},{"d":"2016-09-24","v":-46},{"d":"2016-10-08","v":-43},{"d":"2016-10-24","v":-38},{"d":"2016-11-08","v":-40},{"d":"2016-11-24","v":-38},{"d":"2016-12-08","v":-26},{"d":"2016-12-24","v":-18},
{"d":"2017-01-08","v":-24},{"d":"2017-01-24","v":-45},{"d":"2017-02-08","v":-51},{"d":"2017-02-24","v":-54},{"d":"2017-03-08","v":-54},{"d":"2017-03-24","v":-55},{"d":"2017-04-08","v":-57},{"d":"2017-04-24","v":-59},{"d":"2017-05-08","v":-58},{"d":"2017-05-24","v":-57},{"d":"2017-06-08","v":-60},{"d":"2017-06-24","v":-58},{"d":"2017-07-08","v":-52},{"d":"2017-07-24","v":-45},{"d":"2017-08-08","v":-40},{"d":"2017-08-24","v":-36},{"d":"2017-09-08","v":-34},{"d":"2017-09-24","v":-34},{"d":"2017-10-08","v":-38},{"d":"2017-10-24","v":-42},{"d":"2017-11-08","v":-46},{"d":"2017-11-24","v":-50},{"d":"2017-12-08","v":-53},{"d":"2017-12-24","v":-52},
{"d":"2018-01-08","v":-53},{"d":"2018-01-24","v":-53},{"d":"2018-02-08","v":-50},{"d":"2018-02-24","v":-49},{"d":"2018-03-08","v":-51},{"d":"2018-03-24","v":-50},{"d":"2018-04-08","v":-50},{"d":"2018-04-24","v":-51},{"d":"2018-05-08","v":-52},{"d":"2018-05-24","v":-53},{"d":"2018-06-08","v":-55},{"d":"2018-06-24","v":-56},{"d":"2018-07-08","v":-57},{"d":"2018-07-24","v":-57},{"d":"2018-08-08","v":-58},{"d":"2018-08-24","v":-58},{"d":"2018-09-08","v":-59},{"d":"2018-09-24","v":-60},{"d":"2018-10-08","v":-64},{"d":"2018-10-24","v":-67},{"d":"2018-11-08","v":-69},{"d":"2018-11-24","v":-70},{"d":"2018-12-08","v":-70},{"d":"2018-12-24","v":-70},
{"d":"2019-01-08","v":-71},{"d":"2019-01-24","v":-71},{"d":"2019-02-08","v":-69},{"d":"2019-02-24","v":-68},{"d":"2019-03-08","v":-69},{"d":"2019-03-24","v":-72},{"d":"2019-04-08","v":-76},{"d":"2019-04-24","v":-80},{"d":"2019-05-08","v":-84},{"d":"2019-05-24","v":-85},{"d":"2019-06-08","v":-86},{"d":"2019-06-24","v":-88},{"d":"2019-07-08","v":-87},{"d":"2019-07-24","v":-86}
],
"a10": [
{"d":"2004-11-01","v":45},{"d":"2004-11-16","v":55},{"d":"2004-11-24","v":70},{"d":"2004-12-01","v":100},{"d":"2004-12-08","v":130},{"d":"2004-12-16","v":160},{"d":"2004-12-24","v":200},
{"d":"2005-01-01","v":230},{"d":"2005-01-16","v":250},{"d":"2005-02-01","v":225},{"d":"2005-02-16","v":245},{"d":"2005-03-01","v":230},{"d":"2005-03-16","v":270},{"d":"2005-04-01","v":300},{"d":"2005-04-16","v":330},{"d":"2005-05-01","v":345},{"d":"2005-05-16","v":305},{"d":"2005-06-01","v":365},{"d":"2005-06-16","v":380},{"d":"2005-07-01","v":410},{"d":"2005-07-16","v":385},{"d":"2005-08-01","v":370},{"d":"2005-08-16","v":340},{"d":"2005-09-01","v":295},{"d":"2005-09-16","v":275},{"d":"2005-10-01","v":310},{"d":"2005-10-16","v":360},{"d":"2005-11-01","v":380},{"d":"2005-11-16","v":435},{"d":"2005-12-01","v":460},{"d":"2005-12-16","v":440},
{"d":"2006-01-01","v":470},{"d":"2006-01-16","v":445},{"d":"2006-02-01","v":485},{"d":"2006-02-16","v":465},{"d":"2006-03-01","v":480},{"d":"2006-03-16","v":520},{"d":"2006-04-01","v":535},{"d":"2006-04-16","v":590},{"d":"2006-05-01","v":625},{"d":"2006-05-16","v":600},{"d":"2006-06-01","v":650},{"d":"2006-06-16","v":700},{"d":"2006-07-01","v":740},{"d":"2006-07-08","v":790},{"d":"2006-07-16","v":810},{"d":"2006-07-24","v":845},{"d":"2006-08-01","v":860},{"d":"2006-08-08","v":875},{"d":"2006-08-16","v":830},{"d":"2006-08-24","v":810},{"d":"2006-09-01","v":790},{"d":"2006-09-16","v":760},{"d":"2006-10-01","v":720},{"d":"2006-10-16","v":660},{"d":"2006-11-01","v":620},{"d":"2006-11-16","v":600},{"d":"2006-12-01","v":560},{"d":"2006-12-16","v":520},
{"d":"2007-01-01","v":550},{"d":"2007-01-16","v":610},{"d":"2007-02-01","v":760},{"d":"2007-02-08","v":700},{"d":"2007-02-16","v":660},{"d":"2007-03-01","v":620},{"d":"2007-03-16","v":590},{"d":"2007-04-01","v":520},{"d":"2007-04-16","v":500},{"d":"2007-05-01","v":530},{"d":"2007-05-16","v":580},{"d":"2007-06-01","v":540},{"d":"2007-06-16","v":490},{"d":"2007-07-01","v":475},{"d":"2007-07-16","v":500},{"d":"2007-08-01","v":540},{"d":"2007-08-16","v":510},{"d":"2007-09-01","v":550},{"d":"2007-09-16","v":480},{"d":"2007-10-01","v":460},{"d":"2007-10-16","v":500},{"d":"2007-11-01","v":470},{"d":"2007-11-16","v":620},{"d":"2007-12-01","v":640},{"d":"2007-12-16","v":720},
{"d":"2008-01-01","v":680},{"d":"2008-01-08","v":740},{"d":"2008-01-16","v":790},{"d":"2008-01-24","v":760},{"d":"2008-02-01","v":810},{"d":"2008-02-16","v":860},{"d":"2008-03-01","v":900},{"d":"2008-03-16","v":930},{"d":"2008-04-01","v":980},{"d":"2008-04-08","v":1010},{"d":"2008-04-16","v":960},{"d":"2008-04-24","v":1040},{"d":"2008-05-01","v":1060},{"d":"2008-05-16","v":1120},{"d":"2008-05-24","v":1100},{"d":"2008-06-01","v":1210},{"d":"2008-06-08","v":1240},{"d":"2008-06-16","v":1150},{"d":"2008-06-24","v":1190},{"d":"2008-07-01","v":1060},{"d":"2008-07-08","v":960},{"d":"2008-07-16","v":1010},{"d":"2008-07-24","v":840},{"d":"2008-08-01","v":800},{"d":"2008-08-08","v":760},{"d":"2008-08-16","v":660},{"d":"2008-08-24","v":700},{"d":"2008-09-01","v":620},{"d":"2008-09-08","v":600},{"d":"2008-09-16","v":690},{"d":"2008-09-24","v":640},{"d":"2008-10-01","v":880},{"d":"2008-10-08","v":1220},{"d":"2008-10-16","v":1390},{"d":"2008-10-20","v":1350},{"d":"2008-10-24","v":1280},{"d":"2008-11-01","v":1150},{"d":"2008-11-08","v":1060},{"d":"2008-11-16","v":1000},{"d":"2008-11-24","v":930},{"d":"2008-12-01","v":880},{"d":"2008-12-08","v":820},{"d":"2008-12-16","v":760},{"d":"2008-12-24","v":720},
{"d":"2009-01-01","v":740},{"d":"2009-01-08","v":710},{"d":"2009-01-16","v":680},{"d":"2009-01-24","v":640},{"d":"2009-02-01","v":620},{"d":"2009-02-08","v":600},{"d":"2009-02-16","v":660},{"d":"2009-03-01","v":620},{"d":"2009-03-08","v":700},{"d":"2009-03-16","v":660},{"d":"2009-03-24","v":740},{"d":"2009-04-01","v":700},{"d":"2009-04-16","v":640},{"d":"2009-04-24","v":690},{"d":"2009-05-01","v":720},{"d":"2009-05-16","v":820},{"d":"2009-05-24","v":860},{"d":"2009-06-01","v":840},{"d":"2009-06-08","v":900},{"d":"2009-06-16","v":880},{"d":"2009-06-24","v":940},{"d":"2009-07-01","v":900},{"d":"2009-07-08","v":960},{"d":"2009-07-16","v":850},{"d":"2009-07-24","v":920},{"d":"2009-08-01","v":960},{"d":"2009-08-08","v":1040},{"d":"2009-08-16","v":1150},{"d":"2009-08-24","v":1080},{"d":"2009-09-01","v":1000},{"d":"2009-09-08","v":940},{"d":"2009-09-16","v":900},{"d":"2009-09-24","v":860},{"d":"2009-10-01","v":880},{"d":"2009-10-08","v":820},{"d":"2009-10-16","v":900},{"d":"2009-10-24","v":940},{"d":"2009-11-01","v":980},{"d":"2009-11-08","v":900},{"d":"2009-11-16","v":860},{"d":"2009-11-24","v":820},{"d":"2009-12-01","v":780},{"d":"2009-12-16","v":720},
{"d":"2010-01-01","v":690},{"d":"2010-01-16","v":660},{"d":"2010-02-01","v":640},{"d":"2010-02-08","v":600},{"d":"2010-02-16","v":560},{"d":"2010-03-01","v":700},{"d":"2010-03-08","v":760},{"d":"2010-03-16","v":800},{"d":"2010-03-24","v":840},{"d":"2010-04-01","v":860},{"d":"2010-04-08","v":880},{"d":"2010-04-16","v":900},{"d":"2010-04-24","v":920},{"d":"2010-05-01","v":960},{"d":"2010-05-08","v":1000},{"d":"2010-05-16","v":950},{"d":"2010-05-24","v":1040},{"d":"2010-06-01","v":990},{"d":"2010-06-08","v":1060},{"d":"2010-06-16","v":1020},{"d":"2010-06-24","v":1100},{"d":"2010-07-01","v":1090},{"d":"2010-07-08","v":1130},{"d":"2010-07-16","v":1175},{"d":"2010-07-24","v":1000},{"d":"2010-08-01","v":870},{"d":"2010-08-08","v":840},{"d":"2010-08-16","v":760},{"d":"2010-08-24","v":700},{"d":"2010-09-01","v":690},{"d":"2010-09-16","v":740},{"d":"2010-10-01","v":840},{"d":"2010-10-08","v":900},{"d":"2010-10-16","v":930},{"d":"2010-10-24","v":870},{"d":"2010-11-01","v":820},{"d":"2010-11-16","v":770},{"d":"2010-12-01","v":790},{"d":"2010-12-16","v":750},
{"d":"2011-01-01","v":700},{"d":"2011-01-16","v":640},{"d":"2011-02-01","v":610},{"d":"2011-02-16","v":590},{"d":"2011-03-01","v":600},{"d":"2011-03-16","v":530},{"d":"2011-04-01","v":500},{"d":"2011-04-16","v":470},{"d":"2011-05-01","v":510},{"d":"2011-05-16","v":450},{"d":"2011-06-01","v":420},{"d":"2011-06-16","v":380},{"d":"2011-07-01","v":350},{"d":"2011-07-16","v":330},{"d":"2011-08-01","v":300},{"d":"2011-08-16","v":270},{"d":"2011-09-01","v":240},{"d":"2011-09-16","v":210},{"d":"2011-10-01","v":250},{"d":"2011-10-16","v":220},{"d":"2011-11-01","v":200},{"d":"2011-11-16","v":230},{"d":"2011-12-01","v":195},{"d":"2011-12-16","v":215},
{"d":"2012-01-01","v":220},{"d":"2012-01-16","v":190},{"d":"2012-02-01","v":230},{"d":"2012-02-16","v":210},{"d":"2012-03-01","v":200},{"d":"2012-03-16","v":150},{"d":"2012-04-01","v":100},{"d":"2012-04-16","v":120},{"d":"2012-05-01","v":150},{"d":"2012-05-16","v":140},{"d":"2012-06-01","v":165},{"d":"2012-06-16","v":210},{"d":"2012-07-01","v":220},{"d":"2012-07-16","v":170},{"d":"2012-08-01","v":150},{"d":"2012-08-16","v":185},{"d":"2012-09-01","v":160},{"d":"2012-09-16","v":150},{"d":"2012-10-01","v":175},{"d":"2012-10-16","v":190},{"d":"2012-11-01","v":165},{"d":"2012-11-16","v":195},{"d":"2012-12-01","v":205},{"d":"2012-12-16","v":220},
{"d":"2013-01-01","v":215},{"d":"2013-01-16","v":225},{"d":"2013-02-01","v":210},{"d":"2013-02-16","v":230},{"d":"2013-03-01","v":235},{"d":"2013-03-16","v":265},{"d":"2013-04-01","v":250},{"d":"2013-04-16","v":185},{"d":"2013-05-01","v":150},{"d":"2013-05-16","v":130},{"d":"2013-06-01","v":110},{"d":"2013-06-16","v":95},{"d":"2013-07-01","v":80},{"d":"2013-07-16","v":70},{"d":"2013-08-01","v":50},{"d":"2013-08-16","v":40},{"d":"2013-09-01","v":35},{"d":"2013-09-16","v":30},{"d":"2013-10-01","v":25},{"d":"2013-10-16","v":20},{"d":"2013-11-01","v":30},{"d":"2013-11-16","v":25},{"d":"2013-12-01","v":45},{"d":"2013-12-16","v":52},
{"d":"2014-01-01","v":48},{"d":"2014-01-16","v":25},{"d":"2014-02-01","v":15},{"d":"2014-02-16","v":20},{"d":"2014-03-01","v":30},{"d":"2014-03-16","v":35},{"d":"2014-04-01","v":28},{"d":"2014-04-16","v":40},{"d":"2014-05-01","v":35},{"d":"2014-05-16","v":30},{"d":"2014-06-01","v":25},{"d":"2014-06-16","v":35},{"d":"2014-07-01","v":40},{"d":"2014-07-16","v":42},{"d":"2014-08-01","v":38},{"d":"2014-08-16","v":45},{"d":"2014-09-01","v":40},{"d":"2014-09-16","v":35},{"d":"2014-10-01","v":42},{"d":"2014-10-16","v":38},{"d":"2014-11-01","v":30},{"d":"2014-11-16","v":15},{"d":"2014-12-01","v":5},{"d":"2014-12-16","v":0},
{"d":"2015-01-01","v":-10},{"d":"2015-01-16","v":-20},{"d":"2015-02-01","v":-25},{"d":"2015-02-16","v":-15},{"d":"2015-03-01","v":-8},{"d":"2015-03-16","v":-5},{"d":"2015-04-01","v":-10},{"d":"2015-04-16","v":-15},{"d":"2015-05-01","v":-25},{"d":"2015-05-16","v":-30},{"d":"2015-06-01","v":-35},{"d":"2015-06-16","v":-40},{"d":"2015-07-01","v":-45},{"d":"2015-07-16","v":-42},{"d":"2015-08-01","v":-48},{"d":"2015-08-16","v":-50},{"d":"2015-09-01","v":-52},{"d":"2015-09-16","v":-55},{"d":"2015-10-01","v":-54},{"d":"2015-10-16","v":-56},{"d":"2015-11-01","v":-58},{"d":"2015-11-16","v":-55},{"d":"2015-12-01","v":-57},{"d":"2015-12-16","v":-60},
{"d":"2016-01-01","v":-58},{"d":"2016-01-16","v":-56},{"d":"2016-02-01","v":-58},{"d":"2016-02-16","v":-60},{"d":"2016-03-01","v":-59},{"d":"2016-03-16","v":-61},{"d":"2016-04-01","v":-62},{"d":"2016-04-16","v":-66},{"d":"2016-05-01","v":-70},{"d":"2016-05-16","v":-74},{"d":"2016-06-01","v":-76},{"d":"2016-06-16","v":-79},{"d":"2016-07-01","v":-81},{"d":"2016-07-16","v":-80},
{"d":"2016-08-01","v":0},{"d":"2016-08-16","v":0},{"d":"2016-09-01","v":0},{"d":"2016-09-16","v":0},{"d":"2016-10-01","v":0},{"d":"2016-10-16","v":0},{"d":"2016-11-01","v":0},{"d":"2016-11-16","v":0},{"d":"2016-12-01","v":0},{"d":"2016-12-16","v":0},
{"d":"2017-01-01","v":0},{"d":"2017-01-16","v":0},{"d":"2017-02-01","v":0},{"d":"2017-02-16","v":0},{"d":"2017-03-01","v":0},{"d":"2017-03-16","v":0},{"d":"2017-04-01","v":0},{"d":"2017-04-16","v":0},{"d":"2017-05-01","v":0},{"d":"2017-05-16","v":0},{"d":"2017-06-01","v":0},{"d":"2017-06-16","v":0},{"d":"2017-07-01","v":0},{"d":"2017-07-16","v":0},{"d":"2017-08-01","v":0},{"d":"2017-08-16","v":0},{"d":"2017-09-01","v":0},{"d":"2017-09-16","v":0},{"d":"2017-10-01","v":0},{"d":"2017-10-16","v":0},{"d":"2017-11-01","v":0},{"d":"2017-11-16","v":0},{"d":"2017-12-01","v":0},{"d":"2017-12-16","v":0},
{"d":"2018-01-01","v":0},{"d":"2018-01-16","v":0},{"d":"2018-02-01","v":0},{"d":"2018-02-16","v":0},{"d":"2018-03-01","v":0},{"d":"2018-03-16","v":0},{"d":"2018-04-01","v":0},{"d":"2018-04-16","v":0},{"d":"2018-05-01","v":0},{"d":"2018-05-16","v":0},{"d":"2018-06-01","v":0},{"d":"2018-06-16","v":0},{"d":"2018-07-01","v":0},{"d":"2018-07-16","v":0},{"d":"2018-08-01","v":0},{"d":"2018-08-16","v":0},{"d":"2018-09-01","v":0},{"d":"2018-09-16","v":0},{"d":"2018-10-01","v":0},{"d":"2018-10-16","v":0},{"d":"2018-11-01","v":0},{"d":"2018-11-16","v":0},{"d":"2018-12-01","v":0},{"d":"2018-12-16","v":0},
{"d":"2019-01-01","v":0},{"d":"2019-01-16","v":0},{"d":"2019-02-01","v":0},{"d":"2019-02-16","v":0},{"d":"2019-03-01","v":0},{"d":"2019-03-16","v":0},{"d":"2019-04-01","v":0},{"d":"2019-04-16","v":0},{"d":"2019-05-01","v":0},{"d":"2019-05-16","v":0},{"d":"2019-06-01","v":0},{"d":"2019-06-16","v":0},{"d":"2019-07-01","v":0},{"d":"2019-07-16","v":0},{"d":"2019-08-01","v":0},{"d":"2019-08-16","v":0},{"d":"2019-09-01","v":0},{"d":"2019-09-16","v":0},{"d":"2019-10-01","v":0},{"d":"2019-10-16","v":0},{"d":"2019-11-01","v":0},{"d":"2019-11-16","v":0},{"d":"2019-12-01","v":0},{"d":"2019-12-16","v":0},
{"d":"2020-01-01","v":0},{"d":"2020-01-16","v":0},{"d":"2020-02-01","v":0},{"d":"2020-02-16","v":0},{"d":"2020-03-01","v":0},{"d":"2020-03-16","v":0},{"d":"2020-04-01","v":0},{"d":"2020-04-16","v":0},{"d":"2020-05-01","v":0},{"d":"2020-05-16","v":0},{"d":"2020-06-01","v":0},{"d":"2020-06-16","v":0},{"d":"2020-07-01","v":0},{"d":"2020-07-16","v":0},{"d":"2020-08-01","v":0},{"d":"2020-08-16","v":0},{"d":"2020-09-01","v":0},{"d":"2020-09-16","v":0},{"d":"2020-10-01","v":0},{"d":"2020-10-16","v":0},{"d":"2020-11-01","v":0},{"d":"2020-11-16","v":0},{"d":"2020-12-01","v":0},{"d":"2020-12-16","v":0},
{"d":"2021-01-01","v":0},{"d":"2021-01-16","v":0},{"d":"2021-02-01","v":0},{"d":"2021-02-16","v":0},{"d":"2021-03-01","v":0},{"d":"2021-03-16","v":0},{"d":"2021-04-01","v":0},{"d":"2021-04-16","v":0},{"d":"2021-05-01","v":0},{"d":"2021-05-16","v":0},{"d":"2021-06-01","v":0},{"d":"2021-06-16","v":0},{"d":"2021-07-01","v":0},{"d":"2021-07-16","v":0},{"d":"2021-08-01","v":0},{"d":"2021-08-16","v":0},{"d":"2021-09-01","v":0},{"d":"2021-09-16","v":0},{"d":"2021-10-01","v":0},{"d":"2021-10-16","v":0},{"d":"2021-11-01","v":0},{"d":"2021-11-16","v":0},{"d":"2021-12-01","v":0},{"d":"2021-12-16","v":0},
{"d":"2022-01-01","v":0},{"d":"2022-01-16","v":0},{"d":"2022-02-01","v":0},{"d":"2022-02-16","v":0},{"d":"2022-03-01","v":0},{"d":"2022-03-16","v":0},{"d":"2022-04-01","v":0},{"d":"2022-04-16","v":0},{"d":"2022-05-01","v":0},{"d":"2022-05-16","v":0},{"d":"2022-06-01","v":0},{"d":"2022-06-16","v":0},{"d":"2022-07-01","v":0},{"d":"2022-07-16","v":0},{"d":"2022-08-01","v":0},{"d":"2022-08-16","v":0},{"d":"2022-09-01","v":0},{"d":"2022-09-16","v":0},{"d":"2022-10-01","v":0},{"d":"2022-10-16","v":0},{"d":"2022-11-01","v":0},{"d":"2022-11-16","v":0},{"d":"2022-12-01","v":0},{"d":"2022-12-16","v":0},{"d":"2023-01-01","v":0}
],
"a10x": [
{"d":"2005-01-08","v":240},{"d":"2005-01-24","v":235},{"d":"2005-02-08","v":255},{"d":"2005-02-24","v":220},{"d":"2005-03-08","v":250},{"d":"2005-03-24","v":290},{"d":"2005-04-08","v":315},{"d":"2005-04-24","v":345},{"d":"2005-05-08","v":320},{"d":"2005-05-24","v":335},{"d":"2005-06-08","v":375},{"d":"2005-06-24","v":400},{"d":"2005-07-08","v":395},{"d":"2005-07-24","v":375},{"d":"2005-08-08","v":355},{"d":"2005-08-24","v":320},{"d":"2005-09-08","v":280},{"d":"2005-09-24","v":290},{"d":"2005-10-08","v":335},{"d":"2005-10-24","v":370},{"d":"2005-11-08","v":410},{"d":"2005-11-24","v":450},{"d":"2005-12-08","v":450},{"d":"2005-12-24","v":455},
{"d":"2006-01-08","v":455},{"d":"2006-01-24","v":470},{"d":"2006-02-08","v":475},{"d":"2006-02-24","v":480},{"d":"2006-03-08","v":495},{"d":"2006-03-24","v":530},{"d":"2006-04-08","v":560},{"d":"2006-04-24","v":610},{"d":"2006-05-08","v":610},{"d":"2006-05-24","v":630},{"d":"2006-06-08","v":680},{"d":"2006-06-24","v":720},{"d":"2006-09-08","v":770},{"d":"2006-09-24","v":740},{"d":"2006-10-08","v":690},{"d":"2006-10-24","v":640},{"d":"2006-11-08","v":610},{"d":"2006-11-24","v":580},{"d":"2006-12-08","v":540},{"d":"2006-12-24","v":535},
{"d":"2007-01-08","v":580},{"d":"2007-01-24","v":680},{"d":"2007-02-24","v":640},{"d":"2007-03-08","v":600},{"d":"2007-03-24","v":560},{"d":"2007-04-08","v":510},{"d":"2007-04-24","v":515},{"d":"2007-05-08","v":555},{"d":"2007-05-24","v":560},{"d":"2007-06-08","v":515},{"d":"2007-06-24","v":480},{"d":"2007-07-08","v":490},{"d":"2007-07-24","v":520},{"d":"2007-08-08","v":525},{"d":"2007-08-24","v":530},{"d":"2007-09-08","v":510},{"d":"2007-09-24","v":470},{"d":"2007-10-08","v":485},{"d":"2007-10-24","v":490},{"d":"2007-11-08","v":540},{"d":"2007-11-24","v":635},{"d":"2007-12-08","v":690},{"d":"2007-12-24","v":700},
{"d":"2008-02-08","v":830},{"d":"2008-02-24","v":880},{"d":"2008-03-08","v":910},{"d":"2008-03-24","v":950},{"d":"2008-05-08","v":1080},
{"d":"2009-02-24","v":630},{"d":"2009-04-08","v":660},{"d":"2009-05-08","v":780},{"d":"2009-12-08","v":750},{"d":"2009-12-24","v":700},
{"d":"2010-01-08","v":670},{"d":"2010-01-24","v":640},{"d":"2010-02-24","v":650},{"d":"2010-09-08","v":710},{"d":"2010-09-24","v":790},{"d":"2010-11-08","v":800},{"d":"2010-11-24","v":780},{"d":"2010-12-08","v":760},{"d":"2010-12-24","v":720},
{"d":"2011-01-08","v":680},{"d":"2011-01-24","v":620},{"d":"2011-02-08","v":600},{"d":"2011-02-24","v":580},{"d":"2011-03-08","v":560},{"d":"2011-03-24","v":510},{"d":"2011-04-08","v":490},{"d":"2011-04-24","v":480},{"d":"2011-05-08","v":470},{"d":"2011-05-24","v":430},{"d":"2011-06-08","v":400},{"d":"2011-06-24","v":360},{"d":"2011-07-08","v":340},{"d":"2011-07-24","v":320},{"d":"2011-08-08","v":285},{"d":"2011-08-24","v":255},{"d":"2011-09-08","v":230},{"d":"2011-09-24","v":225},{"d":"2011-10-08","v":235},{"d":"2011-10-24","v":205},{"d":"2011-11-08","v":215},{"d":"2011-11-24","v":210},{"d":"2011-12-08","v":225},{"d":"2011-12-24","v":200},
{"d":"2012-01-08","v":205},{"d":"2012-01-24","v":215},{"d":"2012-02-08","v":220},{"d":"2012-02-24","v":195},{"d":"2012-03-08","v":180},{"d":"2012-03-24","v":120},{"d":"2012-04-08","v":110},{"d":"2012-04-24","v":135},{"d":"2012-05-08","v":145},{"d":"2012-05-24","v":155},{"d":"2012-06-08","v":185},{"d":"2012-06-24","v":220},{"d":"2012-07-08","v":195},{"d":"2012-07-24","v":160},{"d":"2012-08-08","v":170},{"d":"2012-08-24","v":175},{"d":"2012-09-08","v":150},{"d":"2012-09-24","v":165},{"d":"2012-10-08","v":185},{"d":"2012-10-24","v":170},{"d":"2012-11-08","v":180},{"d":"2012-11-24","v":200},{"d":"2012-12-08","v":215},{"d":"2012-12-24","v":205},
{"d":"2013-01-08","v":220},{"d":"2013-01-24","v":205},{"d":"2013-02-08","v":225},{"d":"2013-02-24","v":240},{"d":"2013-03-08","v":255},{"d":"2013-03-24","v":270},{"d":"2013-04-08","v":215},{"d":"2013-04-24","v":165},{"d":"2013-05-08","v":140},{"d":"2013-05-24","v":120},{"d":"2013-06-08","v":100},{"d":"2013-06-24","v":88},{"d":"2013-07-08","v":75},{"d":"2013-07-24","v":60},{"d":"2013-08-08","v":45},{"d":"2013-08-24","v":38},{"d":"2013-09-08","v":32},{"d":"2013-09-24","v":28},{"d":"2013-10-08","v":22},{"d":"2013-10-24","v":26},{"d":"2013-11-08","v":28},{"d":"2013-11-24","v":35},{"d":"2013-12-08","v":50},{"d":"2013-12-24","v":45},
{"d":"2014-01-08","v":35},{"d":"2014-01-24","v":18},{"d":"2014-02-08","v":18},{"d":"2014-02-24","v":25},{"d":"2014-03-08","v":32},{"d":"2014-03-24","v":30},{"d":"2014-04-08","v":35},{"d":"2014-04-24","v":38},{"d":"2014-05-08","v":32},{"d":"2014-05-24","v":28},{"d":"2014-06-08","v":30},{"d":"2014-06-24","v":38},{"d":"2014-07-08","v":42},{"d":"2014-07-24","v":40},{"d":"2014-08-08","v":42},{"d":"2014-08-24","v":42},{"d":"2014-09-08","v":38},{"d":"2014-09-24","v":40},{"d":"2014-10-08","v":40},{"d":"2014-10-24","v":35},{"d":"2014-11-08","v":22},{"d":"2014-11-24","v":10},{"d":"2014-12-08","v":2},{"d":"2014-12-24","v":-5},
{"d":"2015-01-08","v":-15},{"d":"2015-01-24","v":-24},{"d":"2015-02-08","v":-20},{"d":"2015-02-24","v":-12},{"d":"2015-03-08","v":-6},{"d":"2015-03-24","v":-8},{"d":"2015-04-08","v":-12},{"d":"2015-04-24","v":-20},{"d":"2015-05-08","v":-28},{"d":"2015-05-24","v":-32},{"d":"2015-06-08","v":-38},{"d":"2015-06-24","v":-42},{"d":"2015-07-08","v":-44},{"d":"2015-07-24","v":-46},{"d":"2015-08-08","v":-49},{"d":"2015-08-24","v":-52},{"d":"2015-09-08","v":-54},{"d":"2015-09-24","v":-55},{"d":"2015-10-08","v":-55},{"d":"2015-10-24","v":-57},{"d":"2015-11-08","v":-56},{"d":"2015-11-24","v":-56},{"d":"2015-12-08","v":-58},{"d":"2015-12-24","v":-59},
{"d":"2016-01-08","v":-57},{"d":"2016-01-24","v":-57},{"d":"2016-02-08","v":-59},{"d":"2016-02-24","v":-60},{"d":"2016-03-08","v":-60},{"d":"2016-03-24","v":-62},{"d":"2016-04-08","v":-64},{"d":"2016-04-24","v":-68},{"d":"2016-05-08","v":-72},{"d":"2016-05-24","v":-75},{"d":"2016-06-08","v":-78},{"d":"2016-06-24","v":-80},{"d":"2016-07-08","v":-81}
],
"zero": [{"d":"2004-11-01","v":0},{"d":"2016-07-26","v":0}],
"grid": [{"g":-200},{"g":0},{"g":200},{"g":400},{"g":600},{"g":800},{"g":1000},{"g":1200},{"g":1400},{"g":1600}],
"ref": [{"g":100}]
},
"vconcat": [
{
  "width": 2216,
  "height": 51,
  "view": {"fill": "#7dc77d", "stroke": null},
  "data": {"values": [{"t": "header"}]},
  "mark": {"type": "text", "text": "ADAM Informe. Evolution historique des performances en euros pour des détentions de 4 ans (A04) à 10 ans (A10) avec les revenus connus capitalisés", "font": "Lato", "fontWeight": "bold", "fontSize": 31, "color": "#000000", "align": "center", "baseline": "middle", "dx": -34},
  "encoding": {}
},
{
  "width": 2141,
  "height": 931,
  "title": {
    "text": ["Performance par rapport à l'indice S&P 500 INDEX GROSS TR  du placement MarketAxess Holdings Inc en fonction de la date de début pour des", "durées", "entre 4 (A04) et 10 ans (A10). Cotations entre nov. 2004 et juil. 2026. Revenus CAPITALISES depuis nov. 2009."],
    "orient": "top", "anchor": "middle", "frame": "group", "baseline": "top", "offset": -102, "dx": 23,
    "font": "Lato", "fontSize": 26.5, "fontWeight": "normal", "color": "#595959", "lineHeight": 39
  },
  "resolve": {"scale": {"color": "independent"}},
  "layer": [
    {
      "data": {"name": "grid"},
      "mark": {"type": "rule", "color": "#d9d9d9", "strokeWidth": 1.5},
      "encoding": {
        "x": {"datum": {"year": 1997, "month": 1, "date": 1}, "type": "temporal",
          "scale": {"domain": [{"year": 1995, "month": 9, "date": 29}, {"year": 2023, "month": 1, "date": 1}]},
          "axis": {"title": null, "values": [{"year": 1997, "month": 1, "date": 1}, {"year": 1999, "month": 1, "date": 1}, {"year": 2001, "month": 1, "date": 1}, {"year": 2003, "month": 1, "date": 1}, {"year": 2005, "month": 1, "date": 1}, {"year": 2007, "month": 1, "date": 1}, {"year": 2009, "month": 1, "date": 1}, {"year": 2011, "month": 1, "date": 1}, {"year": 2013, "month": 1, "date": 1}, {"year": 2015, "month": 1, "date": 1}, {"year": 2017, "month": 1, "date": 1}, {"year": 2019, "month": 1, "date": 1}, {"year": 2021, "month": 1, "date": 1}], "format": "%d/%m/%Y", "labelPadding": 24, "labelFlush": false, "labelOverlap": false, "grid": true, "domain": false}},
        "x2": {"datum": {"year": 2023, "month": 1, "date": 1}},
        "y": {"field": "g", "type": "quantitative", "scale": {"domain": [-200, 1600], "nice": false, "zero": false},
          "axis": {"title": null, "offset": -99, "values": [-200, 0, 200, 400, 600, 800, 1000, 1200, 1400, 1600], "labelExpr": "(datum.value < 0 ? '- ' : '') + replace(format(abs(datum.value), ',d'), ',', ' ') + '%'", "labelPadding": 21, "grid": false, "domain": true}}
      }
    },
    {
      "data": {"name": "ref"},
      "mark": {"type": "rule", "color": "#c4c4c4", "strokeWidth": 2},
      "encoding": {
        "x": {"datum": {"year": 1997, "month": 1, "date": 1}, "type": "temporal"},
        "x2": {"datum": {"year": 2023, "month": 1, "date": 1}},
        "y": {"field": "g", "type": "quantitative"}
      }
    },
    {
      "data": {"name": "a04"},
      "mark": {"type": "point", "shape": "M-1,0L1,0M0,-1L0,1", "filled": false, "strokeWidth": 2.5, "size": 95, "opacity": 1},
      "encoding": {
        "x": {"field": "d", "type": "temporal"},
        "y": {"field": "v", "type": "quantitative"},
        "color": {"datum": "A04", "scale": {"domain": ["A04"], "range": ["#FFC000"]},
          "legend": {"title": null, "orient": "none", "legendX": 1840, "legendY": 83, "padding": 19, "fillColor": "white",
            "symbolType": "M-1,0L1,0M0,-1L0,1", "symbolSize": 56, "symbolStrokeWidth": 2,
            "labelExpr": "'Rendement_' + datum.label", "labelFont": "Lato", "labelFontSize": 26, "labelColor": "#404040", "labelOffset": 14, "labelLimit": 400}}
      }
    },
    {
      "data": {"name": "a04x"},
      "mark": {"type": "point", "shape": "M-1,0L1,0M0,-1L0,1", "filled": false, "strokeWidth": 2.5, "size": 95, "opacity": 1, "color": "#FFC000"},
      "encoding": {
        "x": {"field": "d", "type": "temporal"},
        "y": {"field": "v", "type": "quantitative"}
      }
    },
    {
      "data": {"name": "a07"},
      "mark": {"type": "point", "shape": "M-1,0L1,0M0,-1L0,1", "filled": false, "strokeWidth": 2.5, "size": 95, "opacity": 1},
      "encoding": {
        "x": {"field": "d", "type": "temporal"},
        "y": {"field": "v", "type": "quantitative"},
        "color": {"datum": "A07", "scale": {"domain": ["A07"], "range": ["#0070C0"]},
          "legend": {"title": null, "orient": "none", "legendX": 1840, "legendY": 149, "padding": 19, "fillColor": "white",
            "symbolType": "M-1,0L1,0M0,-1L0,1", "symbolSize": 56, "symbolStrokeWidth": 2,
            "labelExpr": "'Rendement_' + datum.label", "labelFont": "Lato", "labelFontSize": 26, "labelColor": "#404040", "labelOffset": 14, "labelLimit": 400}}
      }
    },
    {
      "data": {"name": "a07x"},
      "mark": {"type": "point", "shape": "M-1,0L1,0M0,-1L0,1", "filled": false, "strokeWidth": 2.5, "size": 95, "opacity": 1, "color": "#0070C0"},
      "encoding": {
        "x": {"field": "d", "type": "temporal"},
        "y": {"field": "v", "type": "quantitative"}
      }
    },
    {
      "data": {"name": "a10"},
      "mark": {"type": "point", "shape": "M-1,0L1,0M0,-1L0,1", "filled": false, "strokeWidth": 2.5, "size": 95, "opacity": 1},
      "encoding": {
        "x": {"field": "d", "type": "temporal"},
        "y": {"field": "v", "type": "quantitative"},
        "color": {"datum": "A10", "scale": {"domain": ["A10"], "range": ["#FF0000"]},
          "legend": {"title": null, "orient": "none", "legendX": 1840, "legendY": 213, "padding": 19, "fillColor": "white",
            "symbolType": "M-1,0L1,0M0,-1L0,1", "symbolSize": 56, "symbolStrokeWidth": 2,
            "labelExpr": "'Rendement_' + datum.label", "labelFont": "Lato", "labelFontSize": 26, "labelColor": "#404040", "labelOffset": 14, "labelLimit": 400}}
      }
    },
    {
      "data": {"name": "a10x"},
      "mark": {"type": "point", "shape": "M-1,0L1,0M0,-1L0,1", "filled": false, "strokeWidth": 2.5, "size": 95, "opacity": 1, "color": "#FF0000"},
      "encoding": {
        "x": {"field": "d", "type": "temporal"},
        "y": {"field": "v", "type": "quantitative"}
      }
    },
    {
      "data": {"name": "zero"},
      "mark": {"type": "line", "strokeWidth": 4.5, "strokeCap": "butt"},
      "encoding": {
        "x": {"field": "d", "type": "temporal"},
        "y": {"field": "v", "type": "quantitative"},
        "color": {"datum": "0,0%", "scale": {"domain": ["0,0%"], "range": ["#000000"]},
          "legend": {"title": null, "orient": "none", "legendX": 1837, "legendY": 276, "padding": 7, "fillColor": "white",
            "symbolType": "stroke", "symbolSize": 2500, "symbolStrokeWidth": 5,
            "labelFont": "Lato", "labelFontSize": 26, "labelColor": "#404040", "labelOffset": 6, "labelLimit": 400}}
      }
    }
  ]
}
],
"bounds": "flush",
"spacing": 54
}
